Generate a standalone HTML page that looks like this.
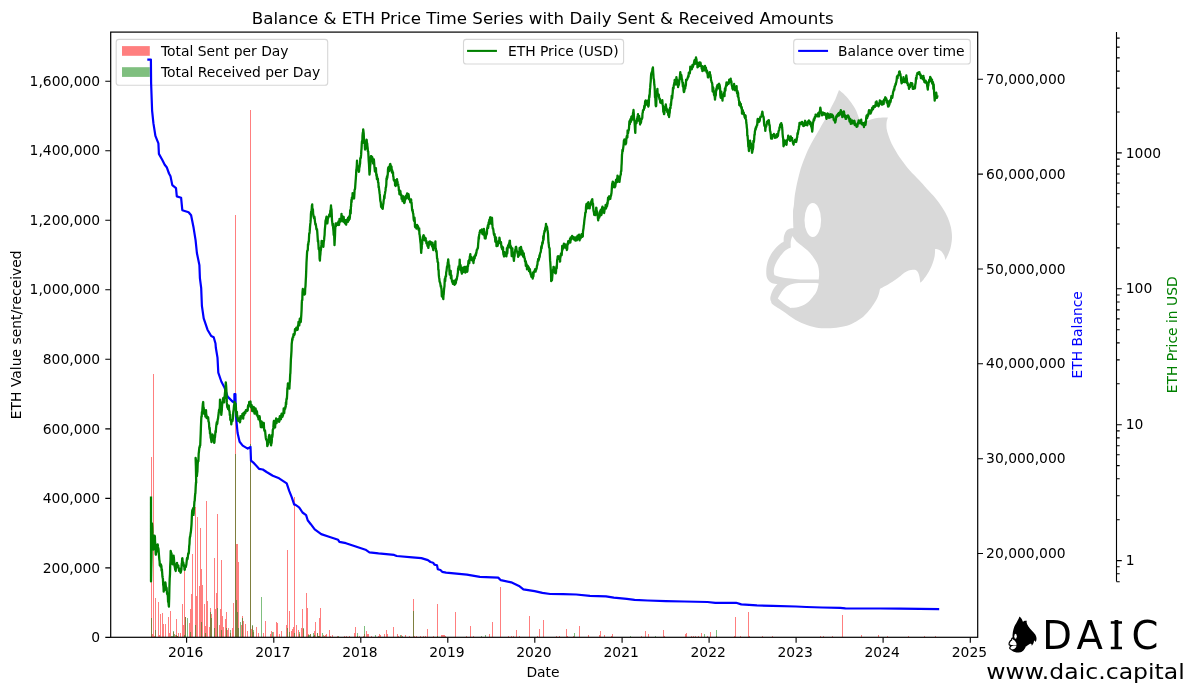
<!DOCTYPE html><html><head><meta charset="utf-8"><title>Balance &amp; ETH Price Time Series</title>
<style>html,body{margin:0;padding:0;background:#fff}svg{display:block}text{font-family:"DejaVu Sans", "Liberation Sans", sans-serif;font-size:13.89px;fill:#000}</style></head><body>
<svg width="1194" height="692" viewBox="0 0 1194 692">
<rect width="1194" height="692" fill="#fff"/>
<g id="wm"><path d="M839 89.9C839.5 90.3 841 91.4 842.4 92.8C843.9 94.2 845.9 96 847.6 98C849.4 100 851.4 102.8 852.8 104.9C854.3 107.1 855.3 108.8 856.3 111C857.3 113.2 858 115.8 858.9 117.9C859.8 120.1 861.4 123.2 861.8 124.2C862.4 123.9 863.6 123 865 122.3C866.4 121.5 868.2 120.4 870.2 119.7C872.2 119 874.8 118.3 877.1 117.9C879.4 117.6 882.3 117.5 884 117.4C885.8 117.4 887.2 117.6 887.9 117.6C887.7 118.4 886.8 120.5 886.6 122.3C886.4 124.1 886.4 126.2 886.6 128.4C886.9 130.5 887.5 132.7 888.4 135.3C889.2 137.9 890.5 141.2 891.8 144C893.2 146.7 894.8 149.5 896.2 151.8C897.5 154.1 897.8 154.7 900 157.8C902.2 160.9 906.4 166.6 909.6 170.3C912.8 174 916.1 176.9 919 180C921.9 183.1 924.1 185.6 926.8 188.7C929.6 191.7 932.9 195 935.5 198.2C938.1 201.4 940.4 204.6 942.4 207.7C944.5 210.9 946.2 214.1 947.6 217.3C949 220.5 950 223.5 950.8 226.8C951.5 230.1 952 233.9 952 237.2C952 240.5 951.3 244 950.8 246.8C950.2 249.5 949.4 251.5 948.5 253.7C947.6 255.9 946 259 945.5 260.1C945.3 259.3 944.8 256.9 944.2 255.4C943.5 254 942.6 252.5 941.6 251.4C940.5 250.4 939.2 249.8 938.1 249.4C937 249 935.6 249.1 935.1 249C935.1 250.2 935.1 253.6 934.6 256.3C934.1 259 933.2 262.1 932 265C930.9 267.9 929.1 271.2 927.7 273.6C926.2 276.1 924.6 278.2 923.4 279.7C922.1 281.2 920.8 282.2 920.2 282.7C920.1 281.7 919.9 278.8 919.5 277.1C919.2 275.5 918.7 273.9 918.2 272.8C917.6 271.6 916.9 270.7 916.1 270.2C915.2 269.7 914.2 269.6 912.9 269.7C911.7 269.7 910.1 270 908.6 270.5C907.2 271 905.9 271.7 904.3 272.8C902.7 273.9 901.1 275.6 899.1 277.1C897.1 278.6 894.5 280.5 892.1 282C889.8 283.5 887.2 285 885.2 286.1C883.2 287.3 880.9 288.4 880 288.9C879.7 289.9 879.3 293 878.4 295.2C877.6 297.4 876.5 299.7 874.9 302.2C873.3 304.8 871.4 307.7 869 310.4C866.7 313.2 863.8 316.4 860.8 318.6C857.9 320.9 854.6 322.5 851.5 323.9C848.3 325.3 845.6 326.1 842.1 326.8C838.6 327.6 834.3 328 830.4 328.2C826.4 328.4 822.5 328.5 818.6 328C814.7 327.5 810.8 326.4 806.9 325.1C803 323.7 799.1 322 795.2 319.8C791.3 317.6 787.2 314.1 783.5 311.6C779.7 309.1 774.9 306.2 772.9 304.6C770.8 302.9 771.6 302.7 771.1 301.6C770.7 300.5 770.2 299.6 770.3 298.1C770.4 296.6 771.1 294.5 771.7 292.8C772.4 291.2 773.1 289.6 774.1 288.1C775 286.7 776.8 284.7 777.4 284C776.4 283.8 773.2 283.5 771.7 282.9C770.2 282.2 769.1 281.2 768.2 279.9C767.3 278.7 766.7 277.2 766.4 275.2C766.2 273.3 766.2 270.7 766.4 268.2C766.7 265.7 767.3 262.6 768.2 260C769.2 257.4 770.5 255 772.1 252.6C773.8 250.2 776.3 247.4 778.2 245.5C780.1 243.7 782.8 242.2 783.7 241.5C783.7 240.7 783.5 238.1 783.9 236.4C784.3 234.8 785 232.7 785.9 231.4C786.8 230.1 788.1 229.3 789.4 228.7C790.6 228.2 792.7 228.1 793.4 227.9C793.3 225.3 792.9 216 793 212.1C793.1 208.3 793.6 207.7 793.9 205C794.2 202.3 794.2 199.8 794.7 196C795.3 192.2 796.3 186.7 797.3 182.1C798.4 177.5 799.4 172.9 800.8 168.2C802.3 163.6 804 159 806 154.4C808 149.7 810.6 144.8 812.9 140.5C815.3 136.2 817.6 132.4 819.9 128.4C822.2 124.3 824.8 120 826.8 116.2C828.8 112.5 830.6 108.7 832 105.8C833.5 102.9 834.3 101.5 835.5 98.9C836.6 96.2 838.4 91.4 839 89.9ZM792.4 236C792.1 236.9 791 239.6 790.8 241.5C790.5 243.4 790.8 246.6 790.8 247.6C789.9 248.1 787.2 248.9 785.3 250.6C783.4 252.3 780.9 255.3 779.2 257.7C777.5 260.1 776.1 262.6 775.2 264.8C774.3 267 773.9 269.1 773.8 270.9C773.7 272.6 774.4 274.6 774.6 275.3C775.5 275.6 777.6 276.4 780.2 276.9C782.9 277.5 787 278.1 790.4 278.5C793.7 278.9 795.8 279.2 800.5 279.4C805.2 279.5 815.7 279.4 818.7 279.4C818.8 278.3 819.3 275.3 819.1 272.9C818.9 270.4 818.6 267.3 817.7 264.8C816.8 262.2 815.3 260.1 813.6 257.7C812 255.3 809.6 252.6 807.6 250.6C805.5 248.6 803.4 247.1 801.5 245.5C799.6 244 798 243.1 796.4 241.5C794.9 239.9 793.1 236.9 792.4 236ZM818.7 283.4C816.7 283.3 810.6 283 806.6 283C802.5 283 797.6 282.9 794.4 283.4C791.2 283.9 789.4 284.8 787.3 286C785.3 287.3 783.9 289 782.3 291.1C780.7 293.2 778.6 297.3 777.8 298.6C778.7 299.4 781.2 301.7 783.3 303.2C785.4 304.8 789.2 307.1 790.4 307.9C791.7 307.7 795.8 307.7 798.5 306.9C801.2 306.1 804.2 304.9 806.6 303.2C808.9 301.6 810.9 299.2 812.6 297.2C814.3 295.1 815.7 293.4 816.7 291.1C817.7 288.8 818.4 284.7 818.7 283.4Z" fill="#d9d9d9" fill-rule="evenodd"/><g fill="#fff"><ellipse cx="812.8" cy="220" rx="8.3" ry="17"/></g></g>
<path d="M151 457h1V637.4h-1zM152 633.9h1V637.4h-1zM153 374h1V637.4h-1zM154 636h1V637.4h-1zM155 597.8h1V637.4h-1zM158 602.1h1V637.4h-1zM159 635.1h1V637.4h-1zM160 613.7h1V637.4h-1zM162 613.2h1V637.4h-1zM163 623.8h1V637.4h-1zM165 623.8h1V637.4h-1zM167 636.5h1V637.4h-1zM168 617.3h1V637.4h-1zM169 633.4h1V637.4h-1zM170 610.8h1V637.4h-1zM172 636.6h1V637.4h-1zM173 631.8h1V637.4h-1zM175 635.4h1V637.4h-1zM176 619.2h1V637.4h-1zM177 636h1V637.4h-1zM178 632.5h1V637.4h-1zM180 633.2h1V637.4h-1zM182 604.3h1V637.4h-1zM183 625.4h1V637.4h-1zM184 571.2h1V637.4h-1zM185 617.3h1V637.4h-1zM189 622.5h1V637.4h-1zM190 609.1h1V637.4h-1zM191 594.2h1V637.4h-1zM192 554h1V637.4h-1zM195 506.8h1V637.4h-1zM196 596.4h1V637.4h-1zM197 516.9h1V637.4h-1zM199 586.2h1V637.4h-1zM200 528h1V637.4h-1zM201 568.9h1V637.4h-1zM202 584.8h1V637.4h-1zM204 603.9h1V637.4h-1zM205 626h1V637.4h-1zM206 501h1V637.4h-1zM207 601.2h1V637.4h-1zM209 626.7h1V637.4h-1zM210 607.9h1V637.4h-1zM211 613.7h1V637.4h-1zM214 558.3h1V637.4h-1zM215 609.4h1V637.4h-1zM216 592.7h1V637.4h-1zM217 514h1V637.4h-1zM219 625.3h1V637.4h-1zM220 609.1h1V637.4h-1zM221 560.1h1V637.4h-1zM222 616.4h1V637.4h-1zM223 626.7h1V637.4h-1zM225 619h1V637.4h-1zM226 612.1h1V637.4h-1zM227 630.3h1V637.4h-1zM228 628.2h1V637.4h-1zM230 632.9h1V637.4h-1zM232 628.2h1V637.4h-1zM233 602.9h1V637.4h-1zM235 215h1V637.4h-1zM236 543.7h1V637.4h-1zM237 544.3h1V637.4h-1zM238 561.7h1V637.4h-1zM241 625.1h1V637.4h-1zM242 616h1V637.4h-1zM243 620.9h1V637.4h-1zM245 624.2h1V637.4h-1zM247 631.2h1V637.4h-1zM250 110h1V637.4h-1zM251 629.4h1V637.4h-1zM252 626h1V637.4h-1zM253 632h1V637.4h-1zM256 627.3h1V637.4h-1zM258 632.9h1V637.4h-1zM263 632.9h1V637.4h-1zM265 621.2h1V637.4h-1zM270 634.2h1V637.4h-1zM271 631.2h1V637.4h-1zM273 632h1V637.4h-1zM276 621.5h1V637.4h-1zM277 622.5h1V637.4h-1zM279 634.2h1V637.4h-1zM281 631.2h1V637.4h-1zM286 625.1h1V637.4h-1zM287 549.7h1V637.4h-1zM289 611.2h1V637.4h-1zM291 631.2h1V637.4h-1zM292 629h1V637.4h-1zM293 627.3h1V637.4h-1zM294 497h1V637.4h-1zM296 625.1h1V637.4h-1zM298 630.3h1V637.4h-1zM299 633.8h1V637.4h-1zM301 628.1h1V637.4h-1zM302 608.8h1V637.4h-1zM303 629.4h1V637.4h-1zM306 593.2h1V637.4h-1zM307 607.5h1V637.4h-1zM308 634.1h1V637.4h-1zM310 633.5h1V637.4h-1zM313 636h1V637.4h-1zM314 631h1V637.4h-1zM315 622.2h1V637.4h-1zM317 633.4h1V637.4h-1zM318 636h1V637.4h-1zM319 617.9h1V637.4h-1zM320 607.5h1V637.4h-1zM323 635.1h1V637.4h-1zM325 634.7h1V637.4h-1zM326 633.9h1V637.4h-1zM329 629.9h1V637.4h-1zM330 635.7h1V637.4h-1zM332 635.2h1V637.4h-1zM337 635.7h1V637.4h-1zM344 636.2h1V637.4h-1zM346 636.2h1V637.4h-1zM347 636.6h1V637.4h-1zM349 635.5h1V637.4h-1zM354 632.6h1V637.4h-1zM355 627h1V637.4h-1zM357 635.8h1V637.4h-1zM359 636.4h1V637.4h-1zM363 635.7h1V637.4h-1zM364 633.6h1V637.4h-1zM366 630.6h1V637.4h-1zM367 634h1V637.4h-1zM368 633.5h1V637.4h-1zM371 636h1V637.4h-1zM378 636.1h1V637.4h-1zM379 633.9h1V637.4h-1zM380 635.3h1V637.4h-1zM384 634.4h1V637.4h-1zM386 630h1V637.4h-1zM387 633.7h1V637.4h-1zM393 627h1V637.4h-1zM394 636.6h1V637.4h-1zM397 633.9h1V637.4h-1zM398 636.4h1V637.4h-1zM401 634.6h1V637.4h-1zM405 634.7h1V637.4h-1zM409 636.1h1V637.4h-1zM413 599.2h1V637.4h-1zM414 636.1h1V637.4h-1zM416 636.2h1V637.4h-1zM420 636.4h1V637.4h-1zM423 635.8h1V637.4h-1zM425 636.3h1V637.4h-1zM427 628.8h1V637.4h-1zM433 635.5h1V637.4h-1zM437 604.1h1V637.4h-1zM438 636.6h1V637.4h-1zM441 635.2h1V637.4h-1zM442 634.9h1V637.4h-1zM443 634.9h1V637.4h-1zM444 634.6h1V637.4h-1zM445 636h1V637.4h-1zM452 636.5h1V637.4h-1zM455 612.2h1V637.4h-1zM466 636h1V637.4h-1zM470 626h1V637.4h-1zM473 636h1V637.4h-1zM489 633.8h1V637.4h-1zM492 622h1V637.4h-1zM500 587h1V637.4h-1zM508 636.1h1V637.4h-1zM511 636.3h1V637.4h-1zM513 636.3h1V637.4h-1zM516 630h1V637.4h-1zM519 636.3h1V637.4h-1zM529 616h1V637.4h-1zM537 635.8h1V637.4h-1zM539 628.8h1V637.4h-1zM543 620h1V637.4h-1zM556 635.6h1V637.4h-1zM559 636.3h1V637.4h-1zM566 629h1V637.4h-1zM567 636.4h1V637.4h-1zM573 635.9h1V637.4h-1zM579 626h1V637.4h-1zM588 634.9h1V637.4h-1zM599 634.7h1V637.4h-1zM600 630.9h1V637.4h-1zM604 635.3h1V637.4h-1zM611 635.5h1V637.4h-1zM612 633.5h1V637.4h-1zM616 636.5h1V637.4h-1zM617 636.5h1V637.4h-1zM641 636.3h1V637.4h-1zM645 631h1V637.4h-1zM648 634.3h1V637.4h-1zM663 630h1V637.4h-1zM664 636.1h1V637.4h-1zM685 634.2h1V637.4h-1zM686 633h1V637.4h-1zM691 636h1V637.4h-1zM693 636.3h1V637.4h-1zM695 636.3h1V637.4h-1zM698 636.1h1V637.4h-1zM701 633h1V637.4h-1zM707 635.6h1V637.4h-1zM710 632h1V637.4h-1zM716 636.1h1V637.4h-1zM734 636.4h1V637.4h-1zM735 616.9h1V637.4h-1zM738 636.5h1V637.4h-1zM740 636.3h1V637.4h-1zM748 612.2h1V637.4h-1zM749 636h1V637.4h-1zM761 636.5h1V637.4h-1zM762 636.2h1V637.4h-1zM772 636.3h1V637.4h-1zM802 636.5h1V637.4h-1zM820 636.4h1V637.4h-1zM823 635.9h1V637.4h-1zM832 636.4h1V637.4h-1zM842 615.3h1V637.4h-1zM861 635.4h1V637.4h-1zM863 636.5h1V637.4h-1zM877 636.5h1V637.4h-1zM878 635.3h1V637.4h-1zM887 636.2h1V637.4h-1zM906 636.6h1V637.4h-1zM908 636h1V637.4h-1zM924 636h1V637.4h-1zM935 636.4h1V637.4h-1zM936 636.5h1V637.4h-1z" fill="#ff0000" fill-opacity="0.5" shape-rendering="crispEdges"/>
<path d="M151 618h1V637.4h-1zM155 630.1h1V637.4h-1zM171 635.9h1V637.4h-1zM172 635.5h1V637.4h-1zM173 631h1V637.4h-1zM174 633.5h1V637.4h-1zM176 634.7h1V637.4h-1zM177 635.8h1V637.4h-1zM184 635.2h1V637.4h-1zM185 617h1V637.4h-1zM187 618h1V637.4h-1zM190 632h1V637.4h-1zM195 625h1V637.4h-1zM201 622h1V637.4h-1zM205 633h1V637.4h-1zM210 612h1V637.4h-1zM211 618h1V637.4h-1zM214 628h1V637.4h-1zM217 608h1V637.4h-1zM221 630h1V637.4h-1zM226 628h1V637.4h-1zM230 630h1V637.4h-1zM235 454h1V637.4h-1zM236 600h1V637.4h-1zM237 612h1V637.4h-1zM238 628h1V637.4h-1zM240 622h1V637.4h-1zM242 618h1V637.4h-1zM250 444h1V637.4h-1zM252 625h1V637.4h-1zM253 630h1V637.4h-1zM261 597.3h1V637.4h-1zM272 632h1V637.4h-1zM287 628h1V637.4h-1zM289 632h1V637.4h-1zM294 633h1V637.4h-1zM299 632h1V637.4h-1zM303 628h1V637.4h-1zM308 635.3h1V637.4h-1zM309 634.7h1V637.4h-1zM310 633.7h1V637.4h-1zM313 632.9h1V637.4h-1zM314 635.3h1V637.4h-1zM317 633.4h1V637.4h-1zM318 636.4h1V637.4h-1zM319 636.2h1V637.4h-1zM322 633h1V637.4h-1zM324 636.2h1V637.4h-1zM338 635.7h1V637.4h-1zM357 632.8h1V637.4h-1zM364 626.2h1V637.4h-1zM375 634.8h1V637.4h-1zM400 635.4h1V637.4h-1zM402 636.1h1V637.4h-1zM404 636.5h1V637.4h-1zM413 610.9h1V637.4h-1zM437 636.2h1V637.4h-1zM481 636h1V637.4h-1zM485 635.2h1V637.4h-1zM507 636.5h1V637.4h-1zM574 633h1V637.4h-1zM584 636.6h1V637.4h-1zM630 635.9h1V637.4h-1zM655 635.7h1V637.4h-1zM704 633.5h1V637.4h-1zM716 630h1V637.4h-1zM736 636.5h1V637.4h-1zM770 636.5h1V637.4h-1zM793 636.5h1V637.4h-1z" fill="#008000" fill-opacity="0.5" shape-rendering="crispEdges"/>
<rect x="116.2" y="39.4" width="211.5" height="45.9" rx="2.8" fill="#fff" fill-opacity="0.8" stroke="#ccc" stroke-opacity="0.8" stroke-width="1.11"/>
<rect x="122" y="46.1" width="27.8" height="9.7" fill="#ff0000" fill-opacity="0.5"/>
<rect x="122" y="67.2" width="27.8" height="9.7" fill="#008000" fill-opacity="0.5"/>
<text x="160.9" y="56">Total Sent per Day</text>
<text x="160.9" y="77">Total Received per Day</text>
<path d="M148.4 59.6 L150.9 59.6 L151.1 83 L152.1 110.6 L153.4 123.2 L155.4 135.8 L158.4 143.3 L158.9 153.9 L162.2 159.7 L164.7 164.7 L166.7 167.2 L169 173.5 L170.5 176.3 L172.3 185.1 L176 188.1 L176.8 196.4 L181.1 197.7 L182.3 210.2 L188.6 212.2 L191.1 215.3 L193.6 227.8 L195.6 240.4 L196.9 253 L199.4 265.1 L199.9 278.1 L201.2 288.2 L201.9 305.8 L203.7 318.4 L207.5 329.7 L211.2 336 L213.7 337.2 L215.5 343.5 L215.8 347.5 L217.5 357.6 L218.3 372.7 L221.3 381.5 L224.6 387.8 L227.6 396.6 L232.6 401.6 L234.4 402.9 L234.4 394.1 L235.4 394.1 L235.9 415.4 L237.6 433 L239.6 441.8 L242.7 445.6 L247.7 448.6 L250.5 446.9 L251 460.7 L254 463.2 L259 468.8 L262.8 469.5 L266.6 472 L272.8 475.8 L279.1 478.3 L286.7 483.3 L289.2 490.9 L291.7 497.2 L294.2 504.7 L295.2 504.7 L299.1 507.3 L302.5 512.5 L306.1 515.1 L307.7 520.3 L310.8 524.2 L314.7 529.4 L321.2 534.1 L329 536.7 L338.1 539.8 L339.4 541.9 L345.9 543.2 L355 546.3 L365.5 549.7 L369.4 552.3 L378.5 553.4 L394.1 554.9 L396.7 556 L412.3 557.3 L421.4 558.1 L427.9 560.1 L430.5 562 L433.1 562.7 L434.4 564.6 L437 565.3 L437.8 569.2 L440.4 570 L442.2 571.8 L446.1 572.6 L456.5 573.7 L466.9 574.7 L479.9 576.8 L498.2 577.6 L500.8 580.2 L511.2 582.3 L519 585.9 L523.4 589.3 L534.6 591.1 L542.4 592.9 L550.2 594 L563.2 594.2 L576.2 594.5 L590 595.8 L606 596.3 L613.8 597.6 L626.8 598.9 L634.6 599.9 L647.6 600.5 L665.9 601.2 L684.1 601.5 L707.5 602 L715.3 602.8 L736.1 602.8 L741.3 604.4 L756.9 605.4 L772.5 605.9 L796 606.5 L806.4 607 L822 607.5 L840.2 607.8 L845.4 608.3 L863.6 608.5 L880 608.5 L900 608.7 L938.1 609.1" stroke="#0000ff" stroke-width="2.2" fill="none" stroke-linejoin="round" stroke-linecap="square"/>
<path d="M151 497.7 L151 581.4 L151.2 569.3 L151.5 556.1 L151.8 539.8 L152 523.3 L152.3 527.3 L152.5 533.9 L152.8 537.8 L153.1 541.9 L153.3 549.5 L153.6 547.3 L153.8 545.4 L154.1 540.4 L154.4 538.4 L154.6 535.7 L154.9 536.6 L155.1 542.7 L155.4 546.6 L155.7 553.7 L155.9 554.7 L156.2 551.7 L156.4 552.1 L156.7 549.5 L157 548.8 L157.2 545.4 L157.5 544.3 L157.7 544.3 L158 546.9 L158.3 548.5 L158.5 548.7 L158.8 553 L159 555.6 L159.3 559.3 L159.6 561.4 L159.8 565.4 L160.1 564.5 L160.3 565.1 L160.6 566.5 L160.9 564.4 L161.1 565.3 L161.4 565.9 L161.6 570.7 L161.9 569.3 L162.2 573 L162.4 576.3 L162.7 578 L162.9 578.4 L163.2 584.9 L163.5 586.9 L163.7 591.6 L164 587.8 L164.2 587.3 L164.5 589.4 L164.8 589.8 L165 584.7 L165.3 582.3 L165.5 583 L165.8 586.2 L166.1 587.2 L166.3 588.7 L166.6 587.8 L166.8 591 L167.1 593.9 L167.4 594.2 L167.6 594.2 L167.9 596.9 L168.1 602 L168.4 601.2 L168.7 605.2 L168.9 606.7 L169.2 597.8 L169.4 588.1 L169.7 578.6 L170 574.1 L170.2 566.1 L170.5 560.2 L170.7 551 L171 552.3 L171.3 555.9 L171.5 553.4 L171.8 558.9 L172 562.9 L172.3 563.6 L172.6 564.3 L172.8 561.8 L173.1 556.6 L173.3 557.6 L173.6 555.7 L173.9 558.2 L174.1 560.9 L174.4 565.4 L174.6 566.3 L174.9 567.5 L175.2 569.9 L175.4 568.2 L175.7 571 L175.9 567.4 L176.2 567.9 L176.5 564.7 L176.7 563.2 L177 562.9 L177.2 565.9 L177.5 566.4 L177.8 565.1 L178 565.9 L178.3 565.4 L178.5 567.8 L178.8 568.5 L179.1 570.9 L179.3 568.4 L179.6 569.6 L179.8 569.3 L180.1 569.7 L180.4 572.5 L180.6 572.7 L180.9 571.6 L181.1 571 L181.4 569.6 L181.7 563.5 L181.9 563.5 L182.2 558.3 L182.4 558.2 L182.7 563.3 L183 562.3 L183.2 562.3 L183.5 564 L183.7 565.1 L184 566.2 L184.3 566 L184.5 569.8 L184.8 569.7 L185 567.3 L185.3 566.9 L185.6 566.8 L185.8 566.9 L186.1 565.4 L186.3 564.9 L186.6 562.1 L186.9 558.9 L187.1 557.9 L187.4 559.2 L187.6 558.8 L187.9 556.4 L188.2 553.5 L188.4 553.1 L188.7 553.5 L188.9 551.7 L189.2 546.1 L189.5 543.8 L189.7 539.2 L190 536.6 L190.2 536.6 L190.5 533.9 L190.8 532.5 L191 530.6 L191.3 527.1 L191.5 524.7 L191.8 517.9 L192.1 511.9 L192.3 510.1 L192.6 510.6 L192.8 509.9 L193.1 508.1 L193.4 510.9 L193.6 514.9 L193.9 508.2 L194.1 506.8 L194.4 501.7 L194.7 500.9 L194.9 497.6 L195.2 493.7 L195.4 493.2 L195.7 486.9 L196 482.2 L196.2 482.8 L195.9 466.7 L195.6 458 L195.9 459.9 L196.1 461.6 L196.4 466.8 L196.6 471.6 L196.9 476.2 L197.2 472.7 L197.4 471.8 L197.7 463.8 L197.9 462.2 L198.2 460.2 L198.4 461.2 L198.7 453.2 L198.9 452.1 L199.2 448.9 L199.4 447.2 L199.7 447.4 L199.9 445.7 L200.2 445.5 L200.4 440.5 L200.7 433.5 L200.9 427.6 L201.2 420.2 L201.4 416.5 L201.7 416.6 L201.9 412.1 L202.2 413.2 L202.4 409.1 L202.7 405.6 L202.9 403.4 L203.2 402 L203.4 407 L203.7 407.6 L203.9 409.5 L204.2 413.8 L204.4 412.2 L204.7 410.5 L204.9 414.5 L205.2 414.1 L205.4 416.7 L205.7 414.3 L206 410.1 L206.2 414.1 L206.5 415.2 L206.7 418.1 L207 417.3 L207.2 416.6 L207.5 416.8 L207.7 416.8 L208 418.5 L208.2 417.7 L208.5 421.6 L208.7 421.6 L209 423.3 L209.2 426.8 L209.5 429.3 L209.7 427.9 L210 433.6 L210.2 432.3 L210.5 435.5 L210.7 437.9 L211 438.7 L211.2 440 L211.5 442.1 L211.7 440.9 L212 439.4 L212.2 434.7 L212.5 434.5 L212.7 437.3 L213 436.3 L213.2 435.5 L213.5 436.5 L213.7 438.3 L214 441.4 L214.2 442.8 L214.5 441.8 L214.8 437.1 L215 437.2 L215.3 433.3 L215.5 431 L215.8 432.3 L216 428.6 L216.3 425.6 L216.5 423.9 L216.8 422.2 L217 424.1 L217.3 423.6 L217.5 421.5 L217.8 419.1 L218 418.9 L218.3 416.1 L218.5 414.5 L218.8 412.5 L219 410 L219.3 410.5 L219.5 409.6 L219.8 407.2 L220 399.6 L220.3 406.3 L220.5 408.2 L220.8 408.3 L221 410.6 L221.3 414.8 L221.5 413.1 L221.8 410.3 L222 406.5 L222.3 403.3 L222.5 401.9 L222.8 400.4 L223.1 398.3 L223.3 397.9 L223.6 398.3 L223.8 399.1 L224.1 402.4 L224.3 397.2 L224.6 398.3 L224.8 394.6 L225.1 391.8 L225.3 390.5 L225.6 387.7 L225.8 382.3 L226.1 385.6 L226.3 388.5 L226.6 394.8 L226.8 402.4 L227.1 405.5 L227.3 407 L227.6 407.7 L227.8 407.7 L228.1 409.1 L228.3 407.8 L228.6 406.3 L228.8 405.5 L229.1 410.1 L229.3 410.6 L229.6 411.8 L229.8 415.1 L230.1 414.5 L230.3 419.6 L230.6 420.5 L230.8 419.8 L231.1 420.3 L231.3 424.4 L231.6 421 L231.9 420.4 L232.1 420.9 L232.4 421.1 L232.6 420.5 L232.9 418.1 L233.1 414.1 L233.4 411.1 L233.6 410.4 L233.9 407.2 L234.1 404.9 L234.4 407.5 L234.6 401.9 L234.9 403.3 L235.1 404.5 L235.4 405.2 L235.6 403.7 L235.9 406.7 L236.1 412.1 L236.4 415.4 L236.6 416.7 L236.9 411.9 L237.1 416 L237.4 415.8 L237.6 419 L237.9 420.1 L238.1 420.8 L238.4 419.4 L238.6 420.7 L238.9 420.1 L239.1 420.5 L239.4 419.8 L239.6 418.2 L239.9 422.3 L240.2 421.4 L240.4 416.2 L240.7 419.3 L240.9 416.3 L241.2 417.1 L241.4 416.6 L241.7 416.2 L241.9 417.2 L242.2 416.4 L242.4 413.9 L242.7 415.3 L242.9 416.2 L243.2 418.7 L243.4 415.7 L243.7 413 L243.9 413.3 L244.2 414.9 L244.4 412.7 L244.7 411.9 L244.9 413.6 L245.2 413 L245.4 413 L245.7 411.2 L245.9 410.1 L246.2 410.3 L246.4 410.4 L246.7 409.9 L246.9 410.7 L247.2 411 L247.4 410.8 L247.7 410.4 L247.9 407.2 L248.2 405.1 L248.4 407 L248.7 405.8 L249 404.9 L249.2 401.9 L249.5 401.9 L249.7 401.9 L250 401.8 L250.2 402.5 L250.5 401.6 L250.7 404.3 L251 407.3 L251.2 405.5 L251.5 406.6 L251.7 405.1 L252 407.9 L252.2 411.1 L252.5 407.2 L252.7 407.8 L253 411.1 L253.2 410.7 L253.5 410.3 L253.7 406.8 L254 409 L254.2 411.7 L254.5 413.7 L254.7 413.2 L255 411.2 L255.2 410.4 L255.5 408.4 L255.7 409.1 L256 413.3 L256.2 412.8 L256.5 410.7 L256.7 414.9 L257 411.6 L257.3 415.8 L257.5 414.9 L257.8 416 L258 417.3 L258.3 417.4 L258.5 419.4 L258.8 418.3 L259 417.7 L259.3 417.2 L259.5 416.1 L259.8 417.3 L260 420.9 L260.3 422.2 L260.5 423.9 L260.8 427.2 L261 425.2 L261.3 424.5 L261.5 421.4 L261.8 422.5 L262 427.4 L262.3 426.6 L262.5 425.5 L262.8 426.2 L263 423 L263.3 424 L263.5 423.9 L263.8 422.8 L264 427.7 L264.3 430.5 L264.5 430.1 L264.8 431.5 L265 430.3 L265.3 433 L265.5 435.1 L265.8 437.7 L266.1 439.3 L266.3 439.7 L266.6 440.1 L266.8 440.4 L267.1 442.1 L267.3 446.2 L267.6 445.3 L267.8 443.2 L268.1 444.3 L268.3 442 L268.6 439.2 L268.8 436.9 L269.1 435.7 L269.3 434.9 L269.6 435.2 L269.8 438.2 L270.1 438.3 L270.3 439.4 L270.6 443 L270.8 442.5 L271.1 445.4 L271.3 442.5 L271.6 443.1 L271.8 440.6 L272.1 435 L272.3 437.2 L272.6 434.6 L272.8 429.7 L273.1 429.6 L273.3 427.9 L273.6 423.3 L273.8 421.2 L274.1 420.8 L274.4 424 L274.6 425.3 L274.9 426.6 L275.1 427.5 L275.4 422.3 L275.6 422.4 L275.9 423.5 L276.1 418.5 L276.4 422.1 L276.6 423.1 L276.9 420.8 L277.1 420.5 L277.4 419.4 L277.6 420.5 L277.9 420.8 L278.1 420.8 L278.4 419.1 L278.6 420.8 L278.9 420 L279.1 421.9 L279.4 421.1 L279.6 417.6 L279.9 416.1 L280.1 418 L280.4 417.4 L280.6 418.6 L280.9 419.3 L281.1 418 L281.4 414.4 L281.6 413.7 L281.9 416.3 L282.1 414.1 L282.4 416.8 L282.6 415.5 L282.9 415.8 L283.2 413.3 L283.4 413.5 L283.7 408.4 L283.9 411.1 L284.2 413.1 L284.4 410.5 L284.7 409 L284.9 409.1 L285.2 408.7 L285.4 406.5 L285.7 407 L285.9 402.3 L286.2 404.4 L286.4 399.8 L286.7 398.2 L286.9 398.9 L287.2 393.2 L287.4 388.1 L287.7 387.3 L287.9 383.4 L288.2 383.7 L288.4 385.2 L288.7 386.3 L288.9 386.9 L289.2 387.7 L289.4 388.6 L289.7 382.8 L289.9 381.2 L290.2 374.3 L290.4 373 L290.7 364.8 L290.9 359.5 L291.2 355.6 L291.5 350.6 L291.7 344 L292 341.6 L292.2 339 L292.5 340 L292.7 337.3 L293 337.1 L293.2 337.3 L293.5 334.1 L293.7 335.2 L294 333.9 L294.2 335.2 L294.5 334.4 L294.7 333.6 L295 329.1 L295.2 331 L295.5 330.9 L295.7 329.5 L296 329.3 L296.3 327.6 L296.5 329 L296.8 329.9 L297 329.8 L297.3 327.4 L297.5 329.9 L297.8 329 L298 325.2 L298.3 324.9 L298.5 321.8 L298.8 322.9 L299 324.3 L299.3 325.4 L299.5 322.5 L299.8 318.7 L300.1 319.8 L300.3 322.4 L300.6 320.8 L300.8 321.8 L301.1 317.6 L301.3 314.8 L301.6 309.6 L301.8 303.1 L302 300.1 L302.3 300.1 L302.5 292.3 L302.8 289 L303 294.8 L303.3 294.2 L303.5 292.4 L303.8 292.1 L304 290.6 L304.2 294.1 L304.5 294.6 L304.7 293.7 L305 294 L305.2 288.7 L305.5 286.1 L305.8 279.6 L306 276.6 L306.3 268.4 L306.5 262.6 L306.8 257.4 L307.1 252.1 L307.3 250.7 L307.5 250.8 L307.8 249.8 L308 244.2 L308.3 244.9 L308.5 241.7 L308.8 241.8 L309 237.5 L309.2 233.5 L309.5 233.5 L309.7 231.4 L310 227.1 L310.2 224.7 L310.5 222.4 L310.7 220.2 L310.9 214.3 L311.2 211.4 L311.4 210.8 L311.7 209.3 L311.9 205.7 L312.2 204.4 L312.4 209.9 L312.7 209.8 L312.9 209.2 L313.2 214.2 L313.4 215.9 L313.7 217 L313.9 217.8 L314.2 218.3 L314.4 216.6 L314.7 218.4 L314.9 220.8 L315.2 223.1 L315.4 224.7 L315.7 223.8 L315.9 225.1 L316.2 227.1 L316.4 229.1 L316.7 229.6 L317 229.2 L317.2 231.1 L317.5 235.4 L317.7 238.2 L317.9 241.8 L318.2 240.5 L318.4 244.1 L318.7 249.1 L318.9 247.6 L319.2 250.2 L319.4 251.6 L319.6 258.6 L319.9 260.6 L320.1 256.5 L320.4 254.4 L320.6 251.3 L320.9 249.9 L321.1 248 L321.4 244.9 L321.6 241 L321.9 242.3 L322.1 243.5 L322.4 245.2 L322.6 241.3 L322.9 244.3 L323.1 245.6 L323.4 246.8 L323.6 243.7 L323.8 241.4 L324.1 239.9 L324.3 237.4 L324.6 234.8 L324.8 230.2 L325.1 226.8 L325.3 224.8 L325.5 220.8 L325.8 220 L326 219.7 L326.3 217.7 L326.5 216.6 L326.8 218.5 L327 218.8 L327.3 223.4 L327.5 222.5 L327.8 219.2 L328.1 218.4 L328.3 217 L328.6 216.7 L328.8 216.4 L329 216.1 L329.3 214.4 L329.5 215.5 L329.8 215 L330 216.3 L330.3 210.6 L330.5 211.2 L330.7 209 L331 205.5 L331.2 208.8 L331.5 209 L331.7 213.1 L332 220.5 L332.2 221.9 L332.5 224.6 L332.7 225.8 L333 223.8 L333.2 228.4 L333.5 231.4 L333.7 234.9 L334 235.6 L334.2 236.1 L334.5 245.2 L334.7 241.5 L335 235.8 L335.2 229.7 L335.5 225.9 L335.7 223.4 L336 226.1 L336.2 225.5 L336.5 224.6 L336.7 223.7 L337 223.8 L337.2 224 L337.5 223 L337.7 224.8 L338 224 L338.2 223.1 L338.5 221.3 L338.7 224 L339 225 L339.2 223.9 L339.5 218.9 L339.7 219.3 L340 221.5 L340.2 220.3 L340.5 221.7 L340.7 219 L341 219.8 L341.2 219.3 L341.5 213.8 L341.7 215 L342 216.4 L342.2 216.6 L342.5 216.5 L342.7 221.1 L342.9 220.1 L343.2 221.6 L343.4 218.9 L343.7 217 L343.9 219.4 L344.2 222.1 L344.4 220.8 L344.7 222.4 L344.9 223.3 L345.2 221.5 L345.4 221.4 L345.6 220.1 L345.9 222.7 L346.1 224.7 L346.4 223.1 L346.6 220.8 L346.9 219.6 L347.1 219.8 L347.4 221.8 L347.6 219.6 L347.9 221.9 L348.1 217.6 L348.4 217.6 L348.6 219.4 L348.9 220.3 L349.1 216.4 L349.4 216.5 L349.6 219 L349.9 217.1 L350.2 210.1 L350.4 211.4 L350.7 213.5 L350.9 206.7 L351.1 206.4 L351.4 199.8 L351.6 202.3 L351.9 197.5 L352.1 197.3 L352.4 198.6 L352.6 193.1 L352.9 193.8 L353.1 197.4 L353.4 195.8 L353.6 198.1 L353.9 197.7 L354.1 198.5 L354.4 193.9 L354.6 189.8 L354.9 189.3 L355.1 188.3 L355.4 183.8 L355.6 181.2 L355.8 178.8 L356.1 174.3 L356.3 169.7 L356.5 169.2 L356.8 165.6 L357 160.7 L357.3 164.9 L357.5 166.3 L357.8 167.1 L358 166.5 L358.3 167.9 L358.6 170.5 L358.8 171.9 L359.1 170.9 L359.3 167.5 L359.6 166.9 L359.8 164.8 L360.1 163.5 L360.3 158.1 L360.6 158.1 L360.8 157.9 L361.1 154.9 L361.3 150.9 L361.5 149.2 L361.8 143.4 L362 141.1 L362.3 143.1 L362.5 135.9 L362.8 132.6 L363 133.2 L363.2 129.3 L363.5 131.7 L363.7 133.4 L364 140.5 L364.2 140.9 L364.5 143.3 L364.7 143.4 L365 149.5 L365.2 148.2 L365.5 147.7 L365.7 148.6 L366 145.7 L366.2 141.6 L366.5 139.7 L366.7 140 L367 144.7 L367.2 143.3 L367.4 145.8 L367.7 148.1 L367.9 151.5 L368.2 151.4 L368.4 154.7 L368.7 160.7 L369 164.5 L369.2 168.9 L369.5 174.7 L369.7 172.4 L369.9 171.1 L370.2 164.9 L370.4 165 L370.6 160.9 L370.9 156.2 L371.1 156.9 L371.4 156.3 L371.6 158.2 L371.9 161.2 L372.1 157 L372.4 157.7 L372.6 161.5 L372.9 161.4 L373.1 163.5 L373.4 160.9 L373.6 162.5 L373.9 159.5 L374.1 162 L374.4 166.3 L374.7 169.1 L374.9 171.5 L375.2 170 L375.4 168.8 L375.7 169.8 L375.9 168.1 L376.2 173.7 L376.4 176 L376.7 174.3 L376.9 179.3 L377.1 176.5 L377.4 179.7 L377.6 179.4 L377.9 178.6 L378.1 182.8 L378.4 182.6 L378.6 187.4 L378.8 186.4 L379.1 189.3 L379.3 190.6 L379.6 193.4 L379.8 194.3 L380.1 198.4 L380.3 200.8 L380.6 202 L380.8 202.5 L381.1 206.9 L381.4 204.6 L381.6 205 L381.9 207.9 L382.1 208.2 L382.4 206.3 L382.7 208.9 L382.9 207 L383.2 204.1 L383.4 203.8 L383.7 200.2 L384 199.2 L384.2 196 L384.5 198.2 L384.7 194.6 L385 193.5 L385.2 191.8 L385.5 190.7 L385.7 187.8 L386 187.2 L386.3 184.7 L386.5 178.4 L386.8 179.7 L387 176.4 L387.3 177.9 L387.5 176 L387.8 174 L388 169.1 L388.3 167.4 L388.5 167.8 L388.8 168.7 L389 166.7 L389.3 171.1 L389.5 169.4 L389.8 167.3 L390 164.4 L390.3 163.9 L390.5 165 L390.8 165.7 L391 167.1 L391.3 169.6 L391.5 166.7 L391.7 169.7 L392 172.7 L392.2 170.2 L392.5 171.8 L392.7 172.7 L393 172.4 L393.2 176.5 L393.4 176.5 L393.7 179.7 L393.9 180.2 L394.2 179.9 L394.4 181.4 L394.7 181.5 L394.9 180.1 L395.1 185.4 L395.4 184.9 L395.7 186 L395.9 181.1 L396.2 184.2 L396.4 184.7 L396.7 183.3 L397 179.1 L397.2 181.3 L397.5 181.7 L397.7 183.2 L398 184.7 L398.2 184.2 L398.4 185.9 L398.7 187.3 L398.9 190.8 L399.2 189.9 L399.4 194.3 L399.7 190.5 L399.9 191.3 L400.1 194.3 L400.4 191.1 L400.6 194.1 L400.9 195.2 L401.1 194.4 L401.4 195.2 L401.6 198.9 L401.8 197.3 L402.1 198.4 L402.3 199.3 L402.6 201.2 L402.9 196.5 L403.1 196.2 L403.4 196.6 L403.6 198.8 L403.9 201.4 L404.2 203 L404.4 200.8 L404.6 202.6 L404.9 200.1 L405.1 200.1 L405.4 197.1 L405.6 198.4 L405.9 195.7 L406.1 197.5 L406.3 197.2 L406.6 198.3 L406.8 195.4 L407.1 193.4 L407.3 196.3 L407.6 196.7 L407.8 195.6 L408 194 L408.3 197.4 L408.5 194.1 L408.8 195.7 L409 199.1 L409.3 198.3 L409.5 199.6 L409.8 200.3 L410.1 201 L410.3 202.4 L410.6 202.4 L410.8 201 L411.1 199.3 L411.3 201.7 L411.6 202.8 L411.8 206 L412.1 209.5 L412.3 210.9 L412.6 209.9 L412.8 212 L413.1 213.4 L413.3 214.1 L413.6 218.4 L413.8 219.8 L414 220.8 L414.3 219.5 L414.5 217.7 L414.8 221.3 L415 226.7 L415.3 227.3 L415.5 227 L415.7 226.2 L416 227 L416.2 226.2 L416.5 228.7 L416.7 226.2 L417 224.8 L417.2 227 L417.4 226.4 L417.7 225.8 L417.9 226.7 L418.2 226.9 L418.4 228.4 L418.7 230 L418.9 230.7 L419.2 228.4 L419.4 233.9 L419.7 235 L419.9 237 L420.2 239.8 L420.4 241.9 L420.7 244.2 L420.9 248.1 L421.2 252.9 L421.4 249.6 L421.7 248.5 L421.9 243.7 L422.1 244.3 L422.4 240 L422.6 240.4 L422.9 236.7 L423.1 236.6 L423.4 235.5 L423.6 235.2 L423.9 237 L424.2 236.4 L424.4 237.6 L424.7 240.4 L424.9 238.2 L425.2 238.4 L425.4 238.9 L425.7 238.3 L425.9 239.7 L426.2 241 L426.4 243.3 L426.7 241.5 L426.9 242.1 L427.2 242.8 L427.4 245.9 L427.7 243.5 L427.9 245.1 L428.2 247.1 L428.4 247.9 L428.7 245.4 L428.9 243.8 L429.2 241.6 L429.4 242.8 L429.7 243.5 L429.9 241.4 L430.1 244.4 L430.4 244.1 L430.6 243.1 L430.9 242 L431.1 243.8 L431.4 243.4 L431.6 244.8 L431.8 243.8 L432.1 246.3 L432.3 242.9 L432.6 242.8 L432.8 247.9 L433.1 248.7 L433.3 250.1 L433.6 246 L433.8 246.8 L434.1 247.3 L434.3 247 L434.6 244.8 L434.9 246.5 L435.1 245.1 L435.4 241.4 L435.6 248.6 L435.9 248.5 L436.1 251.6 L436.4 250.7 L436.6 251.2 L436.9 255.8 L437.1 258.6 L437.4 258.7 L437.6 262 L437.9 262.1 L438.1 262.5 L438.3 269.6 L438.6 269.9 L438.8 274.8 L439.1 277.7 L439.3 278.5 L439.6 281.7 L439.8 281.9 L440.1 282.7 L440.3 283.5 L440.6 285.5 L440.8 286.9 L441.1 286.1 L441.3 288.3 L441.5 289.3 L441.8 296.1 L442 296.6 L442.3 294.3 L442.5 296.7 L442.8 294.5 L443 297.7 L443.3 299.1 L443.5 295.2 L443.7 294.4 L444 289.9 L444.2 288.2 L444.5 286.1 L444.7 279.5 L445 278.4 L445.2 281.3 L445.5 276.3 L445.7 276.8 L446 276.5 L446.2 272.2 L446.5 271.1 L446.7 269.4 L447 266.5 L447.2 266.9 L447.5 266.1 L447.7 262.7 L448 261.9 L448.2 259.4 L448.5 262.3 L448.7 264.9 L449 265.4 L449.2 265.2 L449.4 270.6 L449.7 274.6 L449.9 273.4 L450.2 274.6 L450.4 274.1 L450.7 270.9 L450.9 278.2 L451.2 278 L451.4 275.4 L451.6 279.3 L451.9 280.1 L452.1 281.9 L452.4 281.7 L452.6 281.8 L452.9 283.8 L453.2 282 L453.4 282.6 L453.7 281 L453.9 280.8 L454.2 283.4 L454.5 284.8 L454.7 281.3 L454.9 283 L455.2 284.2 L455.4 280.3 L455.7 280 L455.9 283 L456.2 279.2 L456.4 279.8 L456.6 280 L456.9 278.6 L457.1 276.8 L457.4 276 L457.6 274.3 L457.9 272.6 L458.1 268.3 L458.4 268.8 L458.6 266.3 L458.9 268.4 L459.1 269.4 L459.4 267 L459.7 259.6 L459.9 264.4 L460.1 265.5 L460.4 264.9 L460.6 265.4 L460.9 270.4 L461.1 270.2 L461.4 272.1 L461.6 272.3 L461.9 273.7 L462.1 268 L462.4 272.5 L462.6 270.5 L462.8 270.4 L463.1 271.9 L463.3 272 L463.6 267.3 L463.8 270.5 L464.1 270.3 L464.3 268.6 L464.6 268.7 L464.8 266.9 L465.1 270.3 L465.3 272.6 L465.5 269.7 L465.8 268.9 L466 266.9 L466.3 267.3 L466.5 266.9 L466.8 268.4 L467 271.8 L467.3 271.7 L467.5 270.4 L467.8 265.8 L468 266.4 L468.3 263.2 L468.5 260.9 L468.8 262.1 L469 260.2 L469.3 263.2 L469.6 259.5 L469.8 256.5 L470.1 256.5 L470.3 254.2 L470.5 256.8 L470.8 259.6 L471 258 L471.3 257.1 L471.5 260 L471.8 257.5 L472 259.5 L472.2 259 L472.5 260.6 L472.7 258.9 L473 260.6 L473.2 261 L473.5 263 L473.7 260 L473.9 260.3 L474.2 256.5 L474.4 256.7 L474.7 258.4 L474.9 256.2 L475.2 256.5 L475.4 254.5 L475.7 255.5 L475.9 255.3 L476.2 252.7 L476.4 253 L476.7 250.3 L476.9 249.8 L477.2 249.6 L477.4 248.8 L477.7 247.9 L477.9 248.3 L478.2 243.4 L478.4 241.6 L478.7 237 L478.9 239 L479.1 235.3 L479.4 233.9 L479.6 232.5 L479.9 232.6 L480.1 230.5 L480.4 230.4 L480.6 231.1 L480.9 230.7 L481.1 231.2 L481.4 229.9 L481.6 230.3 L481.9 229.4 L482.1 232.7 L482.4 234 L482.6 234.2 L482.9 233.8 L483.1 232.3 L483.4 234 L483.6 231.3 L483.9 228.9 L484.1 230.5 L484.3 235.9 L484.6 235.9 L484.8 238.3 L485.1 235.5 L485.3 237.7 L485.6 238.5 L485.8 237.2 L486.1 234.9 L486.4 235 L486.6 231.8 L486.9 233.9 L487.1 229.1 L487.4 227.5 L487.6 227.4 L487.9 225.2 L488.1 228 L488.4 226.3 L488.6 222.5 L488.9 224.5 L489.1 223.9 L489.3 219.9 L489.6 221 L489.8 220 L490.1 217.7 L490.3 217.2 L490.6 218.8 L490.8 221.1 L491 223 L491.3 223.9 L491.5 221.1 L491.8 218.3 L492 217.8 L492.3 223.4 L492.5 226.2 L492.8 228.5 L493 228.4 L493.3 229.6 L493.6 231.9 L493.8 233.7 L494.1 234.9 L494.3 234.6 L494.6 234.1 L494.8 237.1 L495.1 238.1 L495.3 241.8 L495.5 239.4 L495.8 237.5 L496 237.5 L496.3 241.3 L496.5 246.1 L496.8 244.9 L497 243.1 L497.2 244 L497.5 245.9 L497.7 245.5 L498 244.6 L498.2 244.1 L498.5 241.5 L498.7 240.9 L498.9 240.9 L499.2 242.9 L499.4 237.6 L499.7 239 L499.9 241.4 L500.2 241.6 L500.5 242.3 L500.7 242.7 L501 242.1 L501.2 244.8 L501.5 247.5 L501.7 246 L502 247.3 L502.2 249.4 L502.5 247.7 L502.7 248.6 L503 247.3 L503.2 252.3 L503.5 254.8 L503.7 252.9 L504 256.5 L504.2 256.3 L504.5 252.2 L504.7 255.2 L505 255.3 L505.2 255.5 L505.5 255.6 L505.7 253.5 L506 255.3 L506.2 254.2 L506.4 256.4 L506.7 253.5 L506.9 248.1 L507.2 253.6 L507.4 252.2 L507.7 247 L507.9 246.6 L508.1 245.5 L508.4 247.4 L508.6 244.7 L508.9 246.1 L509.1 243.1 L509.4 243.9 L509.6 240.8 L509.9 240.6 L510.1 244.5 L510.4 245.5 L510.6 248.1 L510.9 246.3 L511.2 247.7 L511.4 250.4 L511.7 256.2 L511.9 255.4 L512.2 251.8 L512.4 248.3 L512.6 255.8 L512.9 256.1 L513.1 253.7 L513.4 256.9 L513.6 258 L513.9 260.8 L514.1 258.7 L514.4 255.7 L514.6 256.2 L514.8 252.1 L515.1 251.5 L515.3 249.7 L515.6 249.2 L515.8 247.1 L516.1 246.8 L516.3 247.5 L516.6 250.5 L516.8 251.1 L517.1 251.4 L517.4 252.6 L517.6 253.7 L517.9 253.8 L518.1 256.8 L518.4 255 L518.6 254.7 L518.9 252.7 L519.1 254.4 L519.3 255.4 L519.6 248 L519.8 251.7 L520.1 249.5 L520.3 250.9 L520.6 250.8 L520.8 248.2 L521 246.9 L521.3 248.8 L521.5 254.5 L521.8 250.2 L522 250.3 L522.3 250.7 L522.6 251.1 L522.8 253.8 L523.1 256.5 L523.3 254.1 L523.6 254.3 L523.8 253.3 L524.1 257.3 L524.3 256.7 L524.5 258.5 L524.8 258.4 L525 261.5 L525.3 261.3 L525.5 260.7 L525.8 265.9 L526 262 L526.2 265 L526.5 265.1 L526.7 264.4 L527 269.4 L527.3 268.4 L527.5 267 L527.8 265.9 L528 267.8 L528.3 268.1 L528.5 268 L528.8 267.4 L529 271.2 L529.3 270.8 L529.5 270.5 L529.7 269 L530 269.7 L530.2 273 L530.5 272.1 L530.7 274.6 L531 274.6 L531.2 276 L531.4 276.8 L531.7 275.2 L531.9 274.7 L532.2 274.6 L532.4 275.6 L532.7 278.7 L532.9 276.9 L533.1 272.4 L533.4 276.5 L533.6 273.8 L533.9 271.6 L534.1 271.8 L534.4 271.1 L534.6 271 L534.9 270 L535.1 269.3 L535.4 270.9 L535.6 271.7 L535.9 268.9 L536.1 270 L536.4 268.9 L536.6 268.5 L536.9 266.3 L537.2 264.9 L537.4 264.9 L537.7 261.3 L537.9 261.3 L538.2 258.8 L538.4 260.9 L538.7 259.9 L538.9 259.7 L539.2 257.5 L539.4 255.5 L539.7 257 L539.9 254.5 L540.2 253.3 L540.4 252.6 L540.6 252.4 L540.9 251 L541.1 248 L541.4 246.2 L541.6 248.4 L541.8 246.3 L542.1 244.8 L542.3 242.4 L542.6 243.8 L542.8 242.8 L543.1 239.9 L543.3 236.1 L543.5 240 L543.8 236.5 L544 233.5 L544.3 232.8 L544.5 230.9 L544.8 231.5 L545 230.1 L545.3 227.9 L545.5 229.7 L545.8 227 L546 223.8 L546.3 227.4 L546.5 227.7 L546.8 227.4 L547 226.7 L547.3 228.7 L547.5 230 L547.7 231.1 L548 233.8 L548.3 239.5 L548.5 242.8 L548.8 244.4 L549 247 L549.3 247.9 L549.6 248.2 L549.8 253.4 L550.1 260.4 L550.3 262.3 L550.5 266 L550.8 270.3 L551 273.7 L551.2 281.1 L551.5 277.8 L551.7 279.8 L552 280 L552.3 276.4 L552.5 274 L552.8 270.7 L553 271.6 L553.3 269.5 L553.5 266.8 L553.8 267 L554 269.5 L554.3 268.8 L554.5 270.3 L554.8 270.6 L555 272.9 L555.2 271.2 L555.5 272.6 L555.7 273.4 L556 272.2 L556.2 267.8 L556.5 266.2 L556.7 268.4 L557 263.3 L557.2 259.8 L557.5 258.6 L557.7 256.5 L558 256.1 L558.2 256.7 L558.5 257 L558.7 259.2 L559 256.3 L559.2 256.7 L559.5 257.5 L559.7 256.8 L560 258.1 L560.2 261.1 L560 261.6 L560.2 258.6 L560.5 257.1 L560.7 255.3 L561 253.6 L561.2 253.5 L561.5 254.6 L561.7 255.1 L562 251 L562.2 245.9 L562.5 249.9 L562.7 248.3 L562.9 246.7 L563.2 248.4 L563.4 246.6 L563.7 245.4 L563.9 243.6 L564.2 245.6 L564.4 246.7 L564.7 244.4 L564.9 244.3 L565.2 247.6 L565.4 245.6 L565.7 245.6 L565.9 245.2 L566.2 246.2 L566.4 248.6 L566.7 248.3 L566.9 250 L567.2 249 L567.4 243.7 L567.7 244.7 L567.9 244.5 L568.2 241.2 L568.4 243.7 L568.7 242.6 L569 240.9 L569.2 241.6 L569.5 242.1 L569.7 241.3 L570 238.8 L570.2 238.6 L570.4 242.5 L570.7 237.3 L570.9 237.5 L571.2 237.3 L571.4 239.5 L571.7 238.6 L571.9 237.4 L572.1 235.8 L572.4 238.3 L572.6 237.3 L572.9 236.8 L573.1 237.3 L573.4 238.5 L573.6 238 L573.9 238.3 L574.1 239.5 L574.4 237.5 L574.6 237.8 L574.9 238.6 L575.1 240.1 L575.4 240.5 L575.6 239.1 L575.9 237.4 L576.1 237.9 L576.4 237.7 L576.6 240 L576.8 240.3 L577.1 239.3 L577.3 236.9 L577.6 235.6 L577.8 237.5 L578.1 239 L578.3 239 L578.6 237.8 L578.8 238.7 L579.1 234.7 L579.3 238.5 L579.6 240.3 L579.8 238.6 L580.1 238.1 L580.3 237 L580.6 238.4 L580.8 235.8 L581.1 235.4 L581.3 236.8 L581.6 234.1 L581.8 236.3 L582 237 L582.3 236.3 L582.5 235.2 L582.8 236.4 L583 231.5 L583.3 229.5 L583.5 228.5 L583.8 225.3 L584 224.5 L584.3 221 L584.5 219.3 L584.8 217.1 L585 216.3 L585.3 212.7 L585.5 213 L585.8 212.1 L586 207.2 L586.3 204.8 L586.5 203.9 L586.7 204.1 L587 206.4 L587.2 205.8 L587.5 208.4 L587.7 208.4 L588 202.8 L588.2 202.4 L588.4 202.1 L588.7 205.9 L589 206.1 L589.2 206.6 L589.5 204.2 L589.7 208.4 L590 204.9 L590.3 205.8 L590.5 204.8 L590.8 203.1 L591 203.7 L591.3 201.1 L591.5 202.1 L591.8 201.4 L592 199.5 L592.3 199.1 L592.5 202.4 L592.7 204.9 L593 203.5 L593.2 207.5 L593.5 210.7 L593.7 211.2 L594 212.7 L594.2 214.9 L594.5 214.5 L594.7 213.2 L595 214.8 L595.2 214.2 L595.4 215.2 L595.7 211.7 L595.9 212.5 L596.2 207.6 L596.4 207.9 L596.7 213.1 L596.9 211 L597.2 212.3 L597.4 213.1 L597.7 215.4 L597.9 218 L598.2 220.3 L598.4 217.4 L598.7 216.8 L598.9 217.3 L599.2 217.6 L599.4 215 L599.7 216.5 L599.9 212 L600.2 213 L600.4 210.3 L600.7 210.5 L600.9 209.8 L601.2 213.8 L601.4 215 L601.7 213.8 L601.9 212.2 L602.1 207.9 L602.4 206.7 L602.6 209.4 L602.9 211.2 L603.1 211.3 L603.4 209.1 L603.6 208 L603.9 209.7 L604.1 213 L604.4 211.3 L604.6 209.2 L604.9 208.2 L605.1 208.5 L605.4 208.2 L605.6 205 L605.9 208.7 L606.1 207.9 L606.4 207.2 L606.6 204.8 L606.9 206.2 L607.1 206 L607.3 202.6 L607.6 203.9 L607.8 201 L608.1 197.6 L608.3 200.5 L608.6 197.9 L608.8 197.5 L609 196.4 L609.3 197.1 L609.5 196.5 L609.8 196.9 L610 197.2 L610.3 198.9 L610.5 197.2 L610.7 196.4 L611 195.7 L611.2 194.5 L611.5 193 L611.7 190.4 L612 185.9 L612.2 183.5 L612.5 183.7 L612.7 181.6 L613 181.9 L613.2 182.3 L613.5 182.5 L613.8 186.1 L614 187.2 L614.3 184.6 L614.5 186.5 L614.8 187.3 L615 185.3 L615.3 186.4 L615.5 184.7 L615.8 182.9 L616 179.9 L616.3 181.1 L616.5 179.6 L616.8 179.8 L617 178.5 L617.3 182 L617.5 175.6 L617.7 176.5 L618 176.6 L618.2 177.5 L618.5 178.5 L618.7 179.9 L619 181 L619.2 180.8 L619.5 181.9 L619.7 180 L620 177.8 L620.3 175.7 L620.5 175 L620.8 174.7 L621 171.1 L621.3 171.1 L621.5 165.8 L621.7 163.2 L622 154.4 L622.2 153.5 L622.4 150 L622.7 151.5 L622.9 150.4 L623.2 147.9 L623.4 146.6 L623.7 143.6 L623.9 140.5 L624.2 142 L624.4 139.5 L624.7 140.1 L624.9 139.6 L625.2 140.1 L625.4 141.5 L625.6 144.4 L625.9 142.7 L626.1 143.3 L626.4 138.2 L626.6 137.2 L626.9 135.8 L627.1 136.9 L627.4 137.5 L627.6 130.5 L627.9 131.2 L628.1 133.1 L628.4 130.1 L628.6 130.8 L628.9 129.3 L629.1 126.3 L629.4 121.4 L629.6 121 L629.9 124.3 L630.1 120.9 L630.4 119.1 L630.6 119.2 L630.9 121.9 L631.1 120.5 L631.3 116.7 L631.6 116.5 L631.8 118.2 L632.1 119.1 L632.3 119.6 L632.6 117.6 L632.8 116.4 L633 113.1 L633.3 112.2 L633.5 110 L633.8 114.1 L634 118.1 L634.3 120.4 L634.5 121.2 L634.8 125.7 L635 129.4 L635.3 132.9 L635.5 125.7 L635.8 121.7 L636 121.4 L636.3 122.9 L636.5 123.1 L636.7 121.6 L637 118.7 L637.3 118.3 L637.5 117 L637.8 115.5 L638 114.2 L638.3 120.5 L638.6 116.6 L638.8 116.4 L639.1 116 L639.3 118.1 L639.6 118.2 L639.8 120.8 L640.1 124.5 L640.3 122.3 L640.6 122.6 L640.8 123 L641.1 121.9 L641.3 119 L641.6 119.4 L641.8 119.1 L642 118.7 L642.3 117.6 L642.5 113.3 L642.8 112.6 L643 110.2 L643.3 110.3 L643.5 109.9 L643.8 110 L644 108.6 L644.3 105.9 L644.5 108 L644.8 106.4 L645 103.3 L645.2 101.2 L645.5 104 L645.7 100.4 L646 102.8 L646.2 104.7 L646.5 103.2 L646.7 102.7 L647 103.1 L647.2 101.8 L647.4 103.1 L647.7 100.6 L647.9 104.4 L648.2 106.2 L648.4 106.5 L648.7 105.5 L648.9 101.4 L649.2 95.7 L649.4 97.4 L649.7 94.2 L649.9 90.2 L650.2 87.4 L650.4 84.1 L650.7 81.6 L651 76 L651.2 74.1 L651.5 72.9 L651.7 73.5 L652 71.5 L652.2 71.7 L652.5 68.6 L652.7 68.9 L652.9 67.3 L653.2 72.3 L653.4 74.7 L653.6 78.6 L653.9 79.3 L654.1 81.2 L654.3 84.7 L654.6 86.7 L654.8 90.9 L655 97.2 L655.3 97.8 L655.5 101.1 L655.7 105.5 L656 106.2 L656.2 105.8 L656.4 99.6 L656.6 96.1 L656.9 94.6 L657.1 91 L657.4 88.8 L657.6 92.7 L657.9 94 L658.1 94.7 L658.3 95.7 L658.6 95.7 L658.8 94.7 L659.1 97.5 L659.3 98.2 L659.6 99.6 L659.8 98.7 L660.1 101.2 L660.3 102.7 L660.6 102.6 L660.8 102.1 L661.1 102.3 L661.3 103 L661.6 102 L661.8 100.7 L662.1 102 L662.3 100.2 L662.6 104.2 L662.8 104.9 L663.1 107.5 L663.3 111.9 L663.6 109.2 L663.8 111 L664 114.2 L664.3 113.8 L664.5 111.5 L664.8 109.6 L665 108.5 L665.3 106.5 L665.5 106.7 L665.8 104.5 L666 106.1 L666.3 107.7 L666.5 109.9 L666.8 109.2 L667 109.9 L667.3 112.2 L667.5 109.3 L667.8 112.2 L668 111.9 L668.3 115.1 L668.5 114.5 L668.8 113.7 L669 117 L669.2 115.8 L669.5 112.9 L669.7 113 L670 107.9 L670.2 108 L670.5 108.3 L670.7 104 L671 105.1 L671.2 102.2 L671.5 99.7 L671.7 95.8 L672 98.5 L672.2 98.2 L672.5 94.1 L672.7 92.8 L673 87.8 L673.2 88.6 L673.5 88.6 L673.7 85.9 L674 84.3 L674.2 83.7 L674.5 81.7 L674.7 79.8 L674.9 83.1 L675.2 84.3 L675.4 84.1 L675.7 84.2 L675.9 84.6 L676.2 82.4 L676.4 77.1 L676.6 80.1 L676.9 80.1 L677.1 79.6 L677.4 82.6 L677.6 81.4 L677.9 81 L678.1 87.2 L678.4 85 L678.6 85.5 L678.9 84.5 L679.1 83 L679.4 80.2 L679.6 79.1 L679.9 76.6 L680.1 74 L680.3 72.2 L680.6 74.7 L680.8 76.3 L681.1 77.1 L681.3 74.8 L681.6 76.8 L681.8 79.3 L682.1 79.4 L682.3 82 L682.6 83.3 L682.9 86.6 L683.1 82.9 L683.4 86.7 L683.6 90.5 L683.9 92.1 L684.2 91.7 L684.4 90.3 L684.7 88.8 L684.9 88.8 L685.2 88.5 L685.4 85.3 L685.6 86.2 L685.9 84.7 L686.1 79.6 L686.4 80.3 L686.6 80.5 L686.9 79.2 L687.1 79.5 L687.4 79 L687.6 78.3 L687.8 77.2 L688.1 77.4 L688.3 75.5 L688.6 76.5 L688.8 72.6 L689.1 74 L689.3 73.2 L689.5 72.8 L689.8 73.4 L690 71.7 L690.3 66.6 L690.5 67.3 L690.8 69.3 L691 69.4 L691.3 68.7 L691.5 67.8 L691.8 69.3 L692 68.3 L692.3 65.8 L692.5 64.8 L692.8 67 L693 66 L693.3 65.7 L693.5 64.6 L693.8 64.3 L694 62.7 L694.3 61.1 L694.5 60.3 L694.7 59.9 L695 63.9 L695.2 63.2 L695.5 61.7 L695.7 60.6 L696 57.4 L696.2 61.4 L696.5 59.2 L696.7 63.7 L697 63.3 L697.3 62.3 L697.5 67.4 L697.8 65.7 L698 66.9 L698.3 66.7 L698.5 64 L698.8 66 L699 63.4 L699.2 64 L699.5 62.3 L699.7 65.9 L700 64.3 L700.2 65.7 L700.5 62.6 L700.7 63.8 L700.9 65.3 L701.2 65.6 L701.4 65.7 L701.7 68.6 L701.9 69 L702.2 69.2 L702.4 71 L702.6 66.3 L702.9 68.1 L703.2 70.5 L703.4 69.6 L703.7 69.2 L703.9 66.8 L704.2 67.5 L704.5 70.4 L704.7 68 L705 66 L705.2 67.3 L705.5 70.5 L705.7 69.2 L705.9 67.6 L706.2 70.6 L706.4 71.1 L706.7 72.6 L706.9 70.4 L707.2 71.1 L707.4 73.2 L707.6 74.5 L707.9 77.3 L708.1 77.5 L708.4 77 L708.6 76.5 L708.9 76.3 L709.1 75.5 L709.3 75 L709.6 73.1 L709.8 72.1 L710.1 76.3 L710.3 74.6 L710.6 76 L710.8 78 L711.1 80.4 L711.3 80.7 L711.6 82.2 L711.8 82.4 L712.1 83 L712.3 84.3 L712.6 91.5 L712.8 86.9 L713 91.8 L713.3 87.9 L713.5 90.3 L713.8 91.9 L714 94.8 L714.3 95.3 L714.5 95.4 L714.8 97.4 L715 99.6 L715.3 96.1 L715.5 96.1 L715.8 95.2 L716 91.2 L716.3 88.9 L716.5 90.5 L716.8 87 L717 86.3 L717.3 85.7 L717.5 85 L717.8 86.3 L718.1 85.8 L718.3 88.4 L718.6 84.7 L718.8 84.2 L719.1 83.7 L719.3 87.1 L719.6 85 L719.8 86.2 L720.1 88.4 L720.3 95 L720.6 97.2 L720.8 97.7 L721.1 94.8 L721.3 91.6 L721.5 94.3 L721.8 96.5 L722 94.7 L722.3 98.8 L722.5 100.6 L722.8 95.4 L723 96.1 L723.2 95.5 L723.5 94.8 L723.7 94.1 L724 93.6 L724.2 92.4 L724.5 96.2 L724.7 91.8 L724.9 88.5 L725.2 90.8 L725.4 90.7 L725.7 87 L726 85.8 L726.2 85.1 L726.5 82.5 L726.7 82.7 L727 85.4 L727.3 83.1 L727.5 83.8 L727.8 83.5 L728 82.4 L728.2 83.3 L728.5 82.7 L728.7 83.8 L729 82.3 L729.2 79.7 L729.5 82.2 L729.7 80.3 L729.9 79.5 L730.2 79.8 L730.4 79.3 L730.7 78.6 L730.9 82.4 L731.2 80.9 L731.4 81.5 L731.6 84.2 L731.9 85.8 L732.1 85.2 L732.4 88.7 L732.6 86.1 L732.9 89.7 L733.1 89.4 L733.4 87.4 L733.6 86.1 L733.9 88 L734.1 84 L734.4 86.8 L734.6 87.8 L734.9 89.8 L735.1 90.3 L735.4 88.9 L735.6 88.9 L735.9 86.7 L736.1 88.7 L736.4 87.4 L736.6 86.2 L736.8 91.3 L737.1 93.3 L737.3 91.1 L737.6 91.2 L737.8 96.4 L738.1 93 L738.3 97.8 L738.6 97.5 L738.8 100.1 L739.1 101 L739.3 105.1 L739.5 104.8 L739.8 102.1 L740 103 L740.3 104.4 L740.5 106.5 L740.8 103.9 L741 107 L741.3 107.5 L741.5 108.9 L741.8 107.2 L742 113.6 L742.3 112.2 L742.5 112.9 L742.8 110.2 L743 111.8 L743.3 113.3 L743.5 114.1 L743.8 112.6 L744 114.8 L744.3 114.7 L744.6 117.2 L744.8 114.9 L745.1 118.4 L745.3 116.2 L745.6 115.6 L745.8 118.4 L746.1 120 L746.3 123.1 L746.6 124.4 L746.8 127.3 L747.1 129.3 L747.3 135.9 L747.6 135.6 L747.8 138.8 L748.1 142.2 L748.3 146.8 L748.6 146.2 L748.9 151 L749.1 149.6 L749.4 145.7 L749.6 146 L749.9 144.4 L750.1 140.7 L750.4 144.3 L750.6 143.2 L750.9 143.3 L751.1 144.6 L751.4 148.3 L751.6 147.7 L751.9 151.6 L752.1 152.8 L752.4 151.3 L752.6 149.9 L752.9 149.4 L753.2 147.1 L753.4 140.9 L753.7 142.3 L753.9 141.7 L754.2 139 L754.4 134.7 L754.7 135 L754.9 131.3 L755.2 130.3 L755.4 128.6 L755.7 129.5 L755.9 127.1 L756.2 127.8 L756.4 127.1 L756.7 125.7 L756.9 125 L757.2 125.2 L757.5 119.9 L757.7 118.9 L758 121.6 L758.2 122 L758.5 122.1 L758.7 121.9 L759 119.1 L759.2 121.6 L759.5 121.3 L759.8 120.2 L760 118.6 L760.3 117.1 L760.6 116.4 L760.8 117 L761.1 116.4 L761.3 116.6 L761.6 115.5 L761.8 113.9 L762 114.8 L762.3 111.6 L762.5 112.2 L762.8 115.3 L763.1 116.2 L763.3 116.3 L763.6 117.2 L763.9 120.1 L764.1 123.6 L764.4 125.8 L764.6 125.6 L764.8 126.3 L765.1 126.7 L765.3 130.9 L765.5 128.6 L765.8 126.8 L766 126.8 L766.2 126.6 L766.5 124.6 L766.7 124.6 L767 121.6 L767.3 122.2 L767.5 122.2 L767.8 121.7 L768.1 121.5 L768.3 120.5 L768.6 122 L768.8 120.1 L769 121.8 L769.3 125.1 L769.5 124.7 L769.7 125.6 L770 130.7 L770.3 131.5 L770.6 133.2 L770.8 135.1 L771.1 138.6 L771.4 138.6 L771.6 137 L771.9 137.4 L772.1 138.7 L772.4 135.1 L772.6 135.6 L772.9 135.2 L773.1 135.4 L773.4 135.9 L773.6 136 L773.9 134 L774.1 135 L774.4 135.7 L774.7 136.2 L774.9 137.8 L775.2 136.9 L775.4 136.4 L775.7 136.6 L775.9 136.8 L776.2 137.5 L776.4 134.9 L776.7 134.3 L776.9 135.5 L777.2 137 L777.4 136.3 L777.7 135.3 L778 136 L778.2 133.5 L778.5 132.1 L778.8 130.4 L779.1 130.3 L779.3 129.2 L779.5 127.4 L779.8 127.4 L780 126.5 L780.2 124.5 L780.5 124.8 L780.7 126.9 L780.9 124 L781.2 123.1 L781.4 124 L781.7 124.4 L781.9 125.1 L782.1 127.5 L782.4 130.2 L782.6 134 L782.9 137.1 L783.2 138.9 L783.5 146.3 L783.7 145.4 L784 145.2 L784.2 144 L784.5 143.4 L784.7 142 L784.9 140.4 L785.2 141.1 L785.5 142.7 L785.7 142.5 L786 142.6 L786.3 144.4 L786.5 144.8 L786.8 141.7 L787.1 140.1 L787.4 139.6 L787.6 139.5 L787.9 139.5 L788.2 135.6 L788.4 138.5 L788.6 138.2 L788.9 138.6 L789.1 139.6 L789.3 139.5 L789.6 139.6 L789.8 140.4 L790.1 140.8 L790.3 138.1 L790.6 136.5 L790.8 136.5 L791.1 138 L791.3 137.8 L791.6 137.8 L791.8 138.1 L792.1 138.2 L792.3 140.4 L792.5 140.9 L792.8 141.9 L793 143 L793.3 143.9 L793.6 144.7 L793.8 141.6 L794.1 142.5 L794.4 141.3 L794.6 141 L794.9 141.7 L795.1 139.8 L795.4 139.6 L795.6 140.8 L795.9 140.6 L796.2 142 L796.4 140.9 L796.7 139.9 L796.9 137.9 L797.2 137.2 L797.5 133.2 L797.7 134.6 L798 133.1 L798.3 130.6 L798.5 129.8 L798.8 129.3 L799 126.3 L799.2 127 L799.5 122.8 L799.7 124.9 L799.9 123.8 L800.2 124 L800.5 123.4 L800.7 122.7 L801 124.2 L801.2 122.4 L801.5 122.7 L801.7 123.5 L802 122 L802.2 123.8 L802.5 122.8 L802.7 124.7 L803 124.1 L803.2 126 L803.5 125.2 L803.7 124 L804 125.3 L804.3 125.7 L804.6 125.2 L804.8 121.8 L805.1 120.8 L805.4 122.5 L805.6 123.4 L805.8 123.2 L806.1 123.7 L806.3 124.8 L806.5 122.8 L806.8 123.7 L807 123.3 L807.3 125.4 L807.6 124.2 L807.9 121.4 L808.1 122.4 L808.4 122.2 L808.6 121.7 L808.9 120.5 L809.1 120.6 L809.3 122 L809.6 121.5 L809.8 122.6 L810.1 124.4 L810.3 123.5 L810.5 122.2 L810.8 122.9 L811 124.8 L811.2 126.7 L811.5 127 L811.7 128 L812 129.3 L812.2 131.6 L812.5 129.4 L812.7 126 L813 123.3 L813.3 121.7 L813.5 120.5 L813.8 119.1 L814.1 120.6 L814.3 119.7 L814.6 117.5 L814.9 118 L815.1 116.4 L815.4 115.8 L815.6 114.7 L815.9 114.6 L816.1 115.3 L816.4 116.2 L816.6 115.9 L816.9 116.1 L817.2 115.8 L817.4 114.9 L817.7 116.3 L817.9 114 L818.2 113.1 L818.4 116.2 L818.7 115 L818.9 114.4 L819.2 116.3 L819.4 112 L819.6 113.2 L819.9 111.1 L820.1 109.6 L820.3 107.6 L820.6 109.1 L820.9 111.2 L821.1 111.5 L821.4 111.7 L821.7 113.3 L822 115.4 L822.2 114.3 L822.5 113.3 L822.7 112.9 L823 113.6 L823.2 112.6 L823.5 114.5 L823.7 112.8 L824 114 L824.2 113.5 L824.5 114.7 L824.7 113.2 L825 114 L825.2 113.7 L825.5 114.1 L825.8 115.5 L826 114.9 L826.3 118.1 L826.5 118.8 L826.8 118 L827 116.6 L827.3 115.3 L827.5 113.4 L827.8 115.6 L828 113.9 L828.3 114.9 L828.5 114.8 L828.8 115.5 L829 117.9 L829.3 116.8 L829.5 116.4 L829.8 117.7 L830.1 116.6 L830.3 114.2 L830.6 114.6 L830.8 115.2 L831.1 114.6 L831.3 116.3 L831.6 117 L831.8 114.5 L832.1 114.7 L832.3 115.6 L832.6 115.4 L832.9 115.5 L833.2 117.1 L833.4 117 L833.7 119.9 L833.9 119.2 L834.2 119.5 L834.4 120.2 L834.6 121 L834.9 120.9 L835.1 122.5 L835.4 122.1 L835.6 120.6 L835.9 119.6 L836.2 116.5 L836.5 115.9 L836.7 115.6 L837 115.1 L837.2 116.5 L837.5 115.9 L837.7 115.1 L838 113.9 L838.2 113.6 L838.5 113.5 L838.8 115.6 L839 112.8 L839.3 114.2 L839.5 112.9 L839.8 114.7 L840 114.3 L840.3 111.9 L840.5 112.3 L840.8 110.2 L841 112.5 L841.3 112.5 L841.5 111.7 L841.8 112.8 L842 114.2 L842.3 117.2 L842.5 116.6 L842.8 116 L843.1 115.2 L843.3 112.4 L843.6 112.4 L843.8 111.3 L844.1 112.4 L844.3 115.4 L844.6 116.8 L844.8 116.1 L845.1 115.3 L845.3 116.4 L845.6 118.9 L845.8 117.3 L846.1 118.4 L846.3 118.8 L846.6 116.5 L846.8 117 L847.1 115.9 L847.4 116.8 L847.6 116.2 L847.9 115.4 L848.1 117 L848.4 116.6 L848.6 116.3 L848.9 117.4 L849.1 118.1 L849.3 119.7 L849.6 121.5 L849.8 118.9 L850.1 120.6 L850.3 119 L850.5 121.6 L850.8 123.9 L851 121.4 L851.3 123.3 L851.6 123.5 L851.8 123.4 L852.1 120.4 L852.3 120.9 L852.6 121.7 L852.8 122.4 L853.1 122.6 L853.3 123.4 L853.6 122.8 L853.8 122.2 L854.1 120.9 L854.3 120.6 L854.6 121.6 L854.8 125.1 L855.1 123.5 L855.3 123.5 L855.6 125 L855.9 125.6 L856.1 125.8 L856.4 125.5 L856.6 126.8 L856.9 124.5 L857.1 125.9 L857.4 126.4 L857.6 124.9 L857.9 123.2 L858.1 122.4 L858.4 123 L858.6 120.5 L858.9 123.4 L859.1 121.8 L859.4 120.7 L859.6 122.3 L859.9 122.3 L860.2 121.1 L860.4 123.2 L860.7 121 L860.9 120.9 L861.2 119.7 L861.4 123.2 L861.7 124.1 L862 122.7 L862.3 124.5 L862.5 124 L862.7 123.7 L863 124.7 L863.2 123.1 L863.4 125.3 L863.7 125.4 L864 127 L864.2 124.5 L864.5 122.8 L864.8 122.5 L865.1 122.7 L865.3 123.5 L865.5 124.8 L865.8 122.6 L866 121 L866.2 118 L866.5 115.9 L866.7 115.4 L867 117.2 L867.2 118.1 L867.5 116.6 L867.7 114.5 L868 116 L868.2 115.3 L868.5 114 L868.7 111.9 L869 110.2 L869.2 113.1 L869.4 111.2 L869.7 110.9 L869.9 110.5 L870.2 111.4 L870.5 113.6 L870.7 111.7 L871 112.9 L871.3 111.1 L871.5 110 L871.8 110.6 L872.1 108.2 L872.3 107.6 L872.6 107.9 L872.9 109.4 L873.2 108.6 L873.4 106.2 L873.6 107.3 L873.9 106.8 L874.1 106.5 L874.3 106.1 L874.6 106.3 L874.8 107 L875.1 106.6 L875.3 105.6 L875.6 103.9 L875.8 102.1 L876.1 105.2 L876.3 105.6 L876.6 101.5 L876.8 103 L877.1 103.7 L877.4 103.8 L877.6 104.1 L877.9 103.6 L878.1 105.8 L878.4 105.5 L878.6 106.3 L878.9 105.1 L879.1 104.3 L879.3 102.9 L879.6 104 L879.8 100.5 L880 102.7 L880.3 102.3 L880.6 103.1 L880.8 102.7 L881.1 101.4 L881.4 102.3 L881.7 104.6 L881.9 103.9 L882.2 104.6 L882.4 103.1 L882.7 101.3 L882.9 102.5 L883.2 102.4 L883.4 101.8 L883.7 104 L883.9 100 L884.2 100.2 L884.5 99.2 L884.8 100.1 L885 98.3 L885.3 97.3 L885.5 97.7 L885.8 98.1 L886 98.1 L886.2 98.4 L886.5 100.1 L886.7 102.6 L887 100.4 L887.3 101.6 L887.5 101 L887.8 104.9 L888.1 106.6 L888.3 106 L888.6 106.4 L888.9 104.9 L889.1 102.4 L889.4 104.8 L889.6 101.3 L889.9 100.5 L890.2 102.5 L890.4 102.2 L890.7 101.2 L891 99.2 L891.2 97.5 L891.5 95.8 L891.8 97.5 L892 96.8 L892.3 97.9 L892.6 95.7 L892.8 94.5 L893.1 92.2 L893.4 91 L893.6 91.1 L893.9 89.1 L894.1 90 L894.3 89.8 L894.6 86.5 L894.8 86.9 L895 86.1 L895.3 85.3 L895.5 83.8 L895.8 84.5 L896 83 L896.2 82.5 L896.5 81.1 L896.8 78.6 L897 76.4 L897.3 78.2 L897.6 78.1 L897.8 75.3 L898.1 75.3 L898.4 75.2 L898.7 74.9 L898.9 73.7 L899.2 71.6 L899.5 71.4 L899.7 71.6 L899.9 73.6 L900.2 73.9 L900.4 74.1 L900.6 76.1 L900.9 77 L901.1 80.1 L901.4 82.2 L901.6 83.3 L901.9 82.9 L902.2 82.2 L902.4 79.9 L902.7 80.4 L903 80.1 L903.2 80.9 L903.5 77.1 L903.7 77.8 L904 78.6 L904.2 82.2 L904.5 81.4 L904.7 81.8 L904.9 80.1 L905.2 80 L905.4 82.2 L905.6 81.4 L905.9 79.8 L906.1 77.4 L906.3 75.4 L906.6 77.8 L906.8 78.5 L907.1 83.1 L907.3 82.3 L907.6 83 L907.8 84.9 L908 85.4 L908.3 84.7 L908.5 84.4 L908.7 85.3 L909 88.9 L909.2 86.7 L909.4 86 L909.7 86.5 L909.9 87.1 L910.2 86 L910.4 84.6 L910.7 83.5 L910.9 83 L911.2 84.3 L911.5 84.7 L911.7 85.4 L912 83.2 L912.3 83.6 L912.5 86.6 L912.8 88.8 L913.1 88.4 L913.4 86.9 L913.6 88.9 L913.9 87.3 L914.1 87.3 L914.3 87 L914.6 87.9 L914.8 88.4 L915 87.8 L915.3 84.2 L915.5 84.2 L915.8 81.3 L916 78 L916.2 78.6 L916.5 78.8 L916.7 75.4 L917 74.5 L917.3 73.5 L917.5 72.9 L917.8 74.2 L918.1 73.7 L918.3 73.3 L918.6 73.2 L918.9 72.2 L919.2 72.2 L919.4 72.1 L919.7 73.7 L919.9 74.8 L920.2 74.3 L920.4 75.7 L920.6 74.7 L920.9 78.1 L921.1 76 L921.4 75.9 L921.6 76.6 L921.9 78 L922.1 78.1 L922.4 76.9 L922.6 78.4 L922.9 79.3 L923.1 77.5 L923.4 75.9 L923.6 78.7 L923.9 77.9 L924.1 80.2 L924.4 82.1 L924.7 82.3 L924.9 81.4 L925.2 81.9 L925.4 81.3 L925.6 80.6 L925.9 81.5 L926.1 81.8 L926.3 83.1 L926.6 82.2 L926.8 82.8 L927.1 85 L927.3 86.5 L927.5 87.6 L927.8 89.7 L928 85.7 L928.3 85.8 L928.5 83.8 L928.7 82.4 L929 82.2 L929.2 80 L929.4 80.6 L929.7 81.5 L929.9 79.7 L930.2 76.9 L930.4 77.4 L930.6 77.5 L930.9 79 L931.2 78.8 L931.4 80.3 L931.7 81.4 L932 79.6 L932.2 83.6 L932.5 82.7 L932.7 81.8 L933 82.5 L933.2 84.9 L933.4 88.9 L933.7 84.5 L933.9 88.2 L934.2 94.1 L934.4 96.5 L934.7 100.6 L934.9 98.6 L935.2 97.4 L935.4 96.4 L935.7 93.6 L936 93.3 L936.2 92.7 L936.5 94.6 L936.8 98 L937 97.8 L937.3 96.3" stroke="#008000" stroke-width="2.3" fill="none" stroke-linejoin="round" stroke-linecap="square"/>
<rect x="110.7" y="32.1" width="867" height="605.2" fill="none" stroke="#000" stroke-width="1.2"/>
<text x="185.7" y="656.6" text-anchor="middle">2016</text>
<text x="272.9" y="656.6" text-anchor="middle">2017</text>
<text x="359.9" y="656.6" text-anchor="middle">2018</text>
<text x="446.9" y="656.6" text-anchor="middle">2019</text>
<text x="533.9" y="656.6" text-anchor="middle">2020</text>
<text x="621.2" y="656.6" text-anchor="middle">2021</text>
<text x="708.2" y="656.6" text-anchor="middle">2022</text>
<text x="795.2" y="656.6" text-anchor="middle">2023</text>
<text x="882.2" y="656.6" text-anchor="middle">2024</text>
<text x="969.4" y="656.6" text-anchor="middle">2025</text>
<text x="100.2" y="642" text-anchor="end">0</text>
<text x="100.2" y="572.5" text-anchor="end">200,000</text>
<text x="100.2" y="503" text-anchor="end">400,000</text>
<text x="100.2" y="433.5" text-anchor="end">600,000</text>
<text x="100.2" y="363.9" text-anchor="end">800,000</text>
<text x="100.2" y="294.4" text-anchor="end">1,000,000</text>
<text x="100.2" y="224.9" text-anchor="end">1,200,000</text>
<text x="100.2" y="155.4" text-anchor="end">1,400,000</text>
<text x="100.2" y="85.9" text-anchor="end">1,600,000</text>
<text x="986.1" y="558.1">20,000,000</text>
<text x="986.1" y="463.3">30,000,000</text>
<text x="986.1" y="368.4">40,000,000</text>
<text x="986.1" y="273.6">50,000,000</text>
<text x="986.1" y="178.7">60,000,000</text>
<text x="986.1" y="83.9">70,000,000</text>
<text x="1125.8" y="565.2">1</text>
<text x="1125.8" y="429.3">10</text>
<text x="1125.8" y="293.4">100</text>
<text x="1125.8" y="157.5">1000</text>
<path d="M186.6 637.4v5.3M273.8 637.4v5.3M360.8 637.4v5.3M447.8 637.4v5.3M534.8 637.4v5.3M622.1 637.4v5.3M709.1 637.4v5.3M796.1 637.4v5.3M883.1 637.4v5.3M970.3 637.4v5.3M110.7 637.4h-5.4M110.7 567.9h-5.4M110.7 498.4h-5.4M110.7 428.9h-5.4M110.7 359.3h-5.4M110.7 289.8h-5.4M110.7 220.3h-5.4M110.7 150.8h-5.4M110.7 81.3h-5.4M977.7 553.5h5.3M977.7 458.7h5.3M977.7 363.8h5.3M977.7 269h5.3M977.7 174.1h5.3M977.7 79.3h5.3M1116.5 32.1V581.4M1116.5 560.6h5.3M1116.5 424.7h5.3M1116.5 288.8h5.3M1116.5 152.9h5.3M1116.5 581.7h3.2M1116.5 573.8h3.2M1116.5 566.8h3.2M1116.5 519.7h3.2M1116.5 495.8h3.2M1116.5 478.8h3.2M1116.5 465.6h3.2M1116.5 454.8h3.2M1116.5 445.8h3.2M1116.5 437.9h3.2M1116.5 430.9h3.2M1116.5 383.8h3.2M1116.5 359.9h3.2M1116.5 342.9h3.2M1116.5 329.7h3.2M1116.5 318.9h3.2M1116.5 309.9h3.2M1116.5 302h3.2M1116.5 295h3.2M1116.5 247.9h3.2M1116.5 224h3.2M1116.5 207h3.2M1116.5 193.8h3.2M1116.5 183h3.2M1116.5 174h3.2M1116.5 166.1h3.2M1116.5 159.1h3.2M1116.5 112h3.2M1116.5 88.1h3.2M1116.5 71.1h3.2M1116.5 57.9h3.2M1116.5 47.1h3.2M1116.5 38.1h3.2" stroke="#000" stroke-width="1.11" fill="none"/>
<text x="542.7" y="23.9" text-anchor="middle" style="font-size:16.67px">Balance &amp; ETH Price Time Series with Daily Sent &amp; Received Amounts</text>
<text x="543" y="676.8" text-anchor="middle">Date</text>
<text transform="translate(20.6 334.8) rotate(-90)" text-anchor="middle">ETH Value sent/received</text>
<text transform="translate(1081.6 334.8) rotate(-90)" text-anchor="middle" style="fill:#0000ff">ETH Balance</text>
<text transform="translate(1176.6 334.8) rotate(-90)" text-anchor="middle" style="fill:#008000">ETH Price in USD</text>
<rect x="463.5" y="39.4" width="160.1" height="24.6" rx="2.8" fill="#fff" fill-opacity="0.8" stroke="#ccc" stroke-opacity="0.8" stroke-width="1.11"/>
<path d="M468.1 50.9h27.8" stroke="#008000" stroke-width="2.08" stroke-linecap="square"/>
<text x="507.9" y="56">ETH Price (USD)</text>
<rect x="793.7" y="39.4" width="176.6" height="24.6" rx="2.8" fill="#fff" fill-opacity="0.8" stroke="#ccc" stroke-opacity="0.8" stroke-width="1.11"/>
<path d="M799.2 50.9h27.8" stroke="#0000ff" stroke-width="2.08" stroke-linecap="square"/>
<text x="838.1" y="56">Balance over time</text>
<g transform="translate(1008.5 616.7) scale(0.1508) translate(-766.2 -90.5)"><path d="M839 89.9C839.5 90.3 841 91.4 842.4 92.8C843.9 94.2 845.9 96 847.6 98C849.4 100 851.4 102.8 852.8 104.9C854.3 107.1 855.3 108.8 856.3 111C857.3 113.2 858 115.8 858.9 117.9C859.8 120.1 861.4 123.2 861.8 124.2C862.4 123.9 863.6 123 865 122.3C866.4 121.5 868.2 120.4 870.2 119.7C872.2 119 874.8 118.3 877.1 117.9C879.4 117.6 882.3 117.5 884 117.4C885.8 117.4 887.2 117.6 887.9 117.6C887.7 118.4 886.8 120.5 886.6 122.3C886.4 124.1 886.4 126.2 886.6 128.4C886.9 130.5 887.5 132.7 888.4 135.3C889.2 137.9 890.5 141.2 891.8 144C893.2 146.7 894.8 149.5 896.2 151.8C897.5 154.1 897.8 154.7 900 157.8C902.2 160.9 906.4 166.6 909.6 170.3C912.8 174 916.1 176.9 919 180C921.9 183.1 924.1 185.6 926.8 188.7C929.6 191.7 932.9 195 935.5 198.2C938.1 201.4 940.4 204.6 942.4 207.7C944.5 210.9 946.2 214.1 947.6 217.3C949 220.5 950 223.5 950.8 226.8C951.5 230.1 952 233.9 952 237.2C952 240.5 951.3 244 950.8 246.8C950.2 249.5 949.4 251.5 948.5 253.7C947.6 255.9 946 259 945.5 260.1C945.3 259.3 944.8 256.9 944.2 255.4C943.5 254 942.6 252.5 941.6 251.4C940.5 250.4 939.2 249.8 938.1 249.4C937 249 935.6 249.1 935.1 249C935.1 250.2 935.1 253.6 934.6 256.3C934.1 259 933.2 262.1 932 265C930.9 267.9 929.1 271.2 927.7 273.6C926.2 276.1 924.6 278.2 923.4 279.7C922.1 281.2 920.8 282.2 920.2 282.7C920.1 281.7 919.9 278.8 919.5 277.1C919.2 275.5 918.7 273.9 918.2 272.8C917.6 271.6 916.9 270.7 916.1 270.2C915.2 269.7 914.2 269.6 912.9 269.7C911.7 269.7 910.1 270 908.6 270.5C907.2 271 905.9 271.7 904.3 272.8C902.7 273.9 901.1 275.6 899.1 277.1C897.1 278.6 894.5 280.5 892.1 282C889.8 283.5 887.2 285 885.2 286.1C883.2 287.3 880.9 288.4 880 288.9C879.7 289.9 879.3 293 878.4 295.2C877.6 297.4 876.5 299.7 874.9 302.2C873.3 304.8 871.4 307.7 869 310.4C866.7 313.2 863.8 316.4 860.8 318.6C857.9 320.9 854.6 322.5 851.5 323.9C848.3 325.3 845.6 326.1 842.1 326.8C838.6 327.6 834.3 328 830.4 328.2C826.4 328.4 822.5 328.5 818.6 328C814.7 327.5 810.8 326.4 806.9 325.1C803 323.7 799.1 322 795.2 319.8C791.3 317.6 787.2 314.1 783.5 311.6C779.7 309.1 774.9 306.2 772.9 304.6C770.8 302.9 771.6 302.7 771.1 301.6C770.7 300.5 770.2 299.6 770.3 298.1C770.4 296.6 771.1 294.5 771.7 292.8C772.4 291.2 773.1 289.6 774.1 288.1C775 286.7 776.8 284.7 777.4 284C776.4 283.8 773.2 283.5 771.7 282.9C770.2 282.2 769.1 281.2 768.2 279.9C767.3 278.7 766.7 277.2 766.4 275.2C766.2 273.3 766.2 270.7 766.4 268.2C766.7 265.7 767.3 262.6 768.2 260C769.2 257.4 770.5 255 772.1 252.6C773.8 250.2 776.3 247.4 778.2 245.5C780.1 243.7 782.8 242.2 783.7 241.5C783.7 240.7 783.5 238.1 783.9 236.4C784.3 234.8 785 232.7 785.9 231.4C786.8 230.1 788.1 229.3 789.4 228.7C790.6 228.2 792.7 228.1 793.4 227.9C793.3 225.3 792.9 216 793 212.1C793.1 208.3 793.6 207.7 793.9 205C794.2 202.3 794.2 199.8 794.7 196C795.3 192.2 796.3 186.7 797.3 182.1C798.4 177.5 799.4 172.9 800.8 168.2C802.3 163.6 804 159 806 154.4C808 149.7 810.6 144.8 812.9 140.5C815.3 136.2 817.6 132.4 819.9 128.4C822.2 124.3 824.8 120 826.8 116.2C828.8 112.5 830.6 108.7 832 105.8C833.5 102.9 834.3 101.5 835.5 98.9C836.6 96.2 838.4 91.4 839 89.9ZM792.4 236C792.1 236.9 791 239.6 790.8 241.5C790.5 243.4 790.8 246.6 790.8 247.6C789.9 248.1 787.2 248.9 785.3 250.6C783.4 252.3 780.9 255.3 779.2 257.7C777.5 260.1 776.1 262.6 775.2 264.8C774.3 267 773.9 269.1 773.8 270.9C773.7 272.6 774.4 274.6 774.6 275.3C775.5 275.6 777.6 276.4 780.2 276.9C782.9 277.5 787 278.1 790.4 278.5C793.7 278.9 795.8 279.2 800.5 279.4C805.2 279.5 815.7 279.4 818.7 279.4C818.8 278.3 819.3 275.3 819.1 272.9C818.9 270.4 818.6 267.3 817.7 264.8C816.8 262.2 815.3 260.1 813.6 257.7C812 255.3 809.6 252.6 807.6 250.6C805.5 248.6 803.4 247.1 801.5 245.5C799.6 244 798 243.1 796.4 241.5C794.9 239.9 793.1 236.9 792.4 236ZM818.7 283.4C816.7 283.3 810.6 283 806.6 283C802.5 283 797.6 282.9 794.4 283.4C791.2 283.9 789.4 284.8 787.3 286C785.3 287.3 783.9 289 782.3 291.1C780.7 293.2 778.6 297.3 777.8 298.6C778.7 299.4 781.2 301.7 783.3 303.2C785.4 304.8 789.2 307.1 790.4 307.9C791.7 307.7 795.8 307.7 798.5 306.9C801.2 306.1 804.2 304.9 806.6 303.2C808.9 301.6 810.9 299.2 812.6 297.2C814.3 295.1 815.7 293.4 816.7 291.1C817.7 288.8 818.4 284.7 818.7 283.4Z" fill="#000" fill-rule="evenodd"/><g fill="#fff"><ellipse cx="812.8" cy="220" rx="8.3" ry="17"/></g></g>
<text x="1042.3 1076.6 1110.7 1131.5" y="649.3" style="font-size:38.55px">DAIC</text>
<path d="M1110.8 622.5h11.2M1110.8 648h11.2" stroke="#000" stroke-width="2.6"/>
<text x="986.2" y="679" textLength="198.6" lengthAdjust="spacingAndGlyphs" style="font-size:22px">www.daic.capital</text>
</svg></body></html>
